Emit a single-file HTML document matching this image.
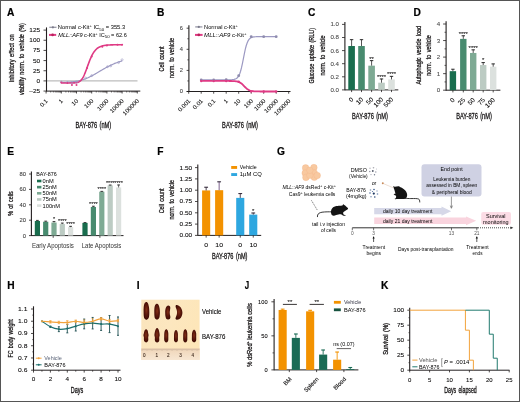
<!DOCTYPE html>
<html><head><meta charset="utf-8"><style>
html,body{margin:0;padding:0;background:#fff;}
body{width:520px;height:402px;overflow:hidden;}
svg{display:block;font-family:"Liberation Sans", sans-serif;will-change:transform;}
</style></head><body>
<svg width="520" height="402" viewBox="0 0 520 402">
<rect x="0" y="0" width="520" height="402" fill="#fff"/>
<text x="6.9" y="16.3" font-size="10.2" stroke="#000" stroke-width="0.2" fill="#000" font-weight="bold">A</text>
<line x1="46.5" y1="80.9" x2="137.5" y2="80.9" stroke="#bdbdbd" stroke-width="1.3" />
<line x1="46.5" y1="27.4" x2="46.5" y2="91.55" stroke="#231f20" stroke-width="1.1" />
<line x1="43.5" y1="91.06" x2="46.5" y2="91.06" stroke="#231f20" stroke-width="0.8" />
<text x="40.2" y="93.01" font-size="5.4" stroke="#231f20" stroke-width="0.08" text-anchor="end" textLength="10.81" lengthAdjust="spacingAndGlyphs">&#8211;25</text>
<line x1="43.5" y1="80.9" x2="46.5" y2="80.9" stroke="#231f20" stroke-width="0.8" />
<text x="40.2" y="82.85" font-size="5.4" stroke="#231f20" stroke-width="0.08" text-anchor="end" textLength="3.6" lengthAdjust="spacingAndGlyphs">0</text>
<line x1="43.5" y1="70.74" x2="46.5" y2="70.74" stroke="#231f20" stroke-width="0.8" />
<text x="40.2" y="72.69" font-size="5.4" stroke="#231f20" stroke-width="0.08" text-anchor="end" textLength="7.21" lengthAdjust="spacingAndGlyphs">25</text>
<line x1="43.5" y1="60.58" x2="46.5" y2="60.58" stroke="#231f20" stroke-width="0.8" />
<text x="40.2" y="62.53" font-size="5.4" stroke="#231f20" stroke-width="0.08" text-anchor="end" textLength="7.21" lengthAdjust="spacingAndGlyphs">50</text>
<line x1="43.5" y1="50.42" x2="46.5" y2="50.42" stroke="#231f20" stroke-width="0.8" />
<text x="40.2" y="52.37" font-size="5.4" stroke="#231f20" stroke-width="0.08" text-anchor="end" textLength="7.21" lengthAdjust="spacingAndGlyphs">75</text>
<line x1="43.5" y1="40.26" x2="46.5" y2="40.26" stroke="#231f20" stroke-width="0.8" />
<text x="40.2" y="42.21" font-size="5.4" stroke="#231f20" stroke-width="0.08" text-anchor="end" textLength="10.81" lengthAdjust="spacingAndGlyphs">100</text>
<line x1="43.5" y1="30.1" x2="46.5" y2="30.1" stroke="#231f20" stroke-width="0.8" />
<text x="40.2" y="32.05" font-size="5.4" stroke="#231f20" stroke-width="0.08" text-anchor="end" textLength="10.81" lengthAdjust="spacingAndGlyphs">125</text>
<line x1="46.5" y1="91.1" x2="140.3" y2="91.1" stroke="#231f20" stroke-width="1" />
<line x1="46.1" y1="91.1" x2="46.1" y2="93.5" stroke="#231f20" stroke-width="0.8" />
<line x1="50.68" y1="91.1" x2="50.68" y2="92.5" stroke="#231f20" stroke-width="0.6" />
<line x1="53.35" y1="91.1" x2="53.35" y2="92.5" stroke="#231f20" stroke-width="0.6" />
<line x1="55.25" y1="91.1" x2="55.25" y2="92.5" stroke="#231f20" stroke-width="0.6" />
<line x1="56.72" y1="91.1" x2="56.72" y2="92.5" stroke="#231f20" stroke-width="0.6" />
<line x1="57.93" y1="91.1" x2="57.93" y2="92.5" stroke="#231f20" stroke-width="0.6" />
<line x1="58.95" y1="91.1" x2="58.95" y2="92.5" stroke="#231f20" stroke-width="0.6" />
<line x1="59.83" y1="91.1" x2="59.83" y2="92.5" stroke="#231f20" stroke-width="0.6" />
<line x1="60.6" y1="91.1" x2="60.6" y2="92.5" stroke="#231f20" stroke-width="0.6" />
<text x="48.2" y="101.3" font-size="5.8" stroke="#231f20" stroke-width="0.08" text-anchor="end" transform="rotate(-45 48.2 101.3)" textLength="8.47" lengthAdjust="spacingAndGlyphs">0.1</text>
<line x1="61.3" y1="91.1" x2="61.3" y2="93.5" stroke="#231f20" stroke-width="0.8" />
<line x1="65.88" y1="91.1" x2="65.88" y2="92.5" stroke="#231f20" stroke-width="0.6" />
<line x1="68.55" y1="91.1" x2="68.55" y2="92.5" stroke="#231f20" stroke-width="0.6" />
<line x1="70.45" y1="91.1" x2="70.45" y2="92.5" stroke="#231f20" stroke-width="0.6" />
<line x1="71.92" y1="91.1" x2="71.92" y2="92.5" stroke="#231f20" stroke-width="0.6" />
<line x1="73.13" y1="91.1" x2="73.13" y2="92.5" stroke="#231f20" stroke-width="0.6" />
<line x1="74.15" y1="91.1" x2="74.15" y2="92.5" stroke="#231f20" stroke-width="0.6" />
<line x1="75.03" y1="91.1" x2="75.03" y2="92.5" stroke="#231f20" stroke-width="0.6" />
<line x1="75.8" y1="91.1" x2="75.8" y2="92.5" stroke="#231f20" stroke-width="0.6" />
<text x="63.4" y="101.3" font-size="5.8" stroke="#231f20" stroke-width="0.08" text-anchor="end" transform="rotate(-45 63.4 101.3)" textLength="3.39" lengthAdjust="spacingAndGlyphs">1</text>
<line x1="76.5" y1="91.1" x2="76.5" y2="93.5" stroke="#231f20" stroke-width="0.8" />
<line x1="81.08" y1="91.1" x2="81.08" y2="92.5" stroke="#231f20" stroke-width="0.6" />
<line x1="83.75" y1="91.1" x2="83.75" y2="92.5" stroke="#231f20" stroke-width="0.6" />
<line x1="85.65" y1="91.1" x2="85.65" y2="92.5" stroke="#231f20" stroke-width="0.6" />
<line x1="87.12" y1="91.1" x2="87.12" y2="92.5" stroke="#231f20" stroke-width="0.6" />
<line x1="88.33" y1="91.1" x2="88.33" y2="92.5" stroke="#231f20" stroke-width="0.6" />
<line x1="89.35" y1="91.1" x2="89.35" y2="92.5" stroke="#231f20" stroke-width="0.6" />
<line x1="90.23" y1="91.1" x2="90.23" y2="92.5" stroke="#231f20" stroke-width="0.6" />
<line x1="91" y1="91.1" x2="91" y2="92.5" stroke="#231f20" stroke-width="0.6" />
<text x="78.6" y="101.3" font-size="5.8" stroke="#231f20" stroke-width="0.08" text-anchor="end" transform="rotate(-45 78.6 101.3)" textLength="6.77" lengthAdjust="spacingAndGlyphs">10</text>
<line x1="91.7" y1="91.1" x2="91.7" y2="93.5" stroke="#231f20" stroke-width="0.8" />
<line x1="96.28" y1="91.1" x2="96.28" y2="92.5" stroke="#231f20" stroke-width="0.6" />
<line x1="98.95" y1="91.1" x2="98.95" y2="92.5" stroke="#231f20" stroke-width="0.6" />
<line x1="100.85" y1="91.1" x2="100.85" y2="92.5" stroke="#231f20" stroke-width="0.6" />
<line x1="102.32" y1="91.1" x2="102.32" y2="92.5" stroke="#231f20" stroke-width="0.6" />
<line x1="103.53" y1="91.1" x2="103.53" y2="92.5" stroke="#231f20" stroke-width="0.6" />
<line x1="104.55" y1="91.1" x2="104.55" y2="92.5" stroke="#231f20" stroke-width="0.6" />
<line x1="105.43" y1="91.1" x2="105.43" y2="92.5" stroke="#231f20" stroke-width="0.6" />
<line x1="106.2" y1="91.1" x2="106.2" y2="92.5" stroke="#231f20" stroke-width="0.6" />
<text x="93.8" y="101.3" font-size="5.8" stroke="#231f20" stroke-width="0.08" text-anchor="end" transform="rotate(-45 93.8 101.3)" textLength="10.16" lengthAdjust="spacingAndGlyphs">100</text>
<line x1="106.9" y1="91.1" x2="106.9" y2="93.5" stroke="#231f20" stroke-width="0.8" />
<line x1="111.48" y1="91.1" x2="111.48" y2="92.5" stroke="#231f20" stroke-width="0.6" />
<line x1="114.15" y1="91.1" x2="114.15" y2="92.5" stroke="#231f20" stroke-width="0.6" />
<line x1="116.05" y1="91.1" x2="116.05" y2="92.5" stroke="#231f20" stroke-width="0.6" />
<line x1="117.52" y1="91.1" x2="117.52" y2="92.5" stroke="#231f20" stroke-width="0.6" />
<line x1="118.73" y1="91.1" x2="118.73" y2="92.5" stroke="#231f20" stroke-width="0.6" />
<line x1="119.75" y1="91.1" x2="119.75" y2="92.5" stroke="#231f20" stroke-width="0.6" />
<line x1="120.63" y1="91.1" x2="120.63" y2="92.5" stroke="#231f20" stroke-width="0.6" />
<line x1="121.4" y1="91.1" x2="121.4" y2="92.5" stroke="#231f20" stroke-width="0.6" />
<text x="109" y="101.3" font-size="5.8" stroke="#231f20" stroke-width="0.08" text-anchor="end" transform="rotate(-45 109 101.3)" textLength="13.55" lengthAdjust="spacingAndGlyphs">1000</text>
<line x1="122.1" y1="91.1" x2="122.1" y2="93.5" stroke="#231f20" stroke-width="0.8" />
<line x1="126.68" y1="91.1" x2="126.68" y2="92.5" stroke="#231f20" stroke-width="0.6" />
<line x1="129.35" y1="91.1" x2="129.35" y2="92.5" stroke="#231f20" stroke-width="0.6" />
<line x1="131.25" y1="91.1" x2="131.25" y2="92.5" stroke="#231f20" stroke-width="0.6" />
<line x1="132.72" y1="91.1" x2="132.72" y2="92.5" stroke="#231f20" stroke-width="0.6" />
<line x1="133.93" y1="91.1" x2="133.93" y2="92.5" stroke="#231f20" stroke-width="0.6" />
<line x1="134.95" y1="91.1" x2="134.95" y2="92.5" stroke="#231f20" stroke-width="0.6" />
<line x1="135.83" y1="91.1" x2="135.83" y2="92.5" stroke="#231f20" stroke-width="0.6" />
<line x1="136.6" y1="91.1" x2="136.6" y2="92.5" stroke="#231f20" stroke-width="0.6" />
<text x="124.2" y="101.3" font-size="5.8" stroke="#231f20" stroke-width="0.08" text-anchor="end" transform="rotate(-45 124.2 101.3)" textLength="16.93" lengthAdjust="spacingAndGlyphs">10000</text>
<line x1="137.3" y1="91.1" x2="137.3" y2="93.5" stroke="#231f20" stroke-width="0.8" />
<text x="139.4" y="101.3" font-size="5.8" stroke="#231f20" stroke-width="0.08" text-anchor="end" transform="rotate(-45 139.4 101.3)" textLength="20.32" lengthAdjust="spacingAndGlyphs">100000</text>
<text x="93.3" y="127.7" font-size="8.2" word-spacing="1.2" stroke="#231f20" stroke-width="0.28" text-anchor="middle" textLength="35.8" lengthAdjust="spacingAndGlyphs">BAY-876 (nM)</text>
<text x="13.7" y="58.4" font-size="7.6" word-spacing="1.2" stroke="#231f20" stroke-width="0.28" text-anchor="middle" transform="rotate(-90 13.7 58.4)" textLength="48" lengthAdjust="spacingAndGlyphs">Inhibitory effect on</text>
<text x="24" y="59.1" font-size="7.6" word-spacing="1.2" stroke="#231f20" stroke-width="0.28" text-anchor="middle" transform="rotate(-90 24 59.1)" textLength="72" lengthAdjust="spacingAndGlyphs">viability norm. to vehicle (%)</text>
<path d="M61.3 82.42 L61.91 82.4 L62.52 82.39 L63.12 82.37 L63.73 82.36 L64.34 82.34 L64.95 82.32 L65.56 82.29 L66.16 82.27 L66.77 82.24 L67.38 82.21 L67.99 82.18 L68.6 82.14 L69.2 82.1 L69.81 82.06 L70.42 82.01 L71.03 81.96 L71.64 81.9 L72.24 81.84 L72.85 81.77 L73.46 81.7 L74.07 81.62 L74.68 81.54 L75.28 81.45 L75.89 81.35 L76.5 81.25 L77.11 81.14 L77.72 81.02 L78.32 80.9 L78.93 80.76 L79.54 80.62 L80.15 80.47 L80.76 80.31 L81.36 80.15 L81.97 79.97 L82.58 79.78 L83.19 79.59 L83.8 79.38 L84.4 79.17 L85.01 78.94 L85.62 78.71 L86.23 78.47 L86.84 78.21 L87.44 77.95 L88.05 77.68 L88.66 77.4 L89.27 77.12 L89.88 76.82 L90.48 76.52 L91.09 76.21 L91.7 75.89 L92.31 75.57 L92.92 75.24 L93.52 74.9 L94.13 74.56 L94.74 74.22 L95.35 73.87 L95.96 73.52 L96.56 73.16 L97.17 72.81 L97.78 72.45 L98.39 72.08 L99 71.72 L99.6 71.36 L100.21 71 L100.82 70.64 L101.43 70.28 L102.04 69.92 L102.64 69.56 L103.25 69.21 L103.86 68.86 L104.47 68.51 L105.08 68.17 L105.68 67.83 L106.29 67.5 L106.9 67.17 L107.51 66.85 L108.12 66.53 L108.72 66.22 L109.33 65.91 L109.94 65.61 L110.55 65.31 L111.16 65.02 L111.76 64.74 L112.37 64.46 L112.98 64.19 L113.59 63.93 L114.2 63.67 L114.8 63.42 L115.41 63.18 L116.02 62.94 L116.63 62.71 L117.24 62.49 L117.84 62.27 L118.45 62.06 L119.06 61.86 L119.67 61.66 L120.28 61.47 L120.88 61.28 L121.49 61.1 L122.1 60.93" fill="none" stroke="#9c99c2" stroke-width="1.2" />
<path d="M61.3 82.93 L61.91 82.93 L62.52 82.93 L63.12 82.93 L63.73 82.93 L64.34 82.93 L64.95 82.93 L65.56 82.93 L66.16 82.93 L66.77 82.93 L67.38 82.93 L67.99 82.93 L68.6 82.93 L69.2 82.93 L69.81 82.93 L70.42 82.92 L71.03 82.92 L71.64 82.92 L72.24 82.91 L72.85 82.9 L73.46 82.88 L74.07 82.86 L74.68 82.83 L75.28 82.78 L75.89 82.72 L76.5 82.64 L77.11 82.52 L77.72 82.36 L78.32 82.16 L78.93 81.88 L79.54 81.54 L80.15 81.1 L80.76 80.55 L81.36 79.89 L81.97 79.09 L82.58 78.16 L83.19 77.08 L83.8 75.87 L84.4 74.54 L85.01 73.08 L85.62 71.54 L86.23 69.91 L86.84 68.25 L87.44 66.56 L88.05 64.87 L88.66 63.21 L89.27 61.6 L89.88 60.05 L90.48 58.59 L91.09 57.21 L91.7 55.92 L92.31 54.73 L92.92 53.64 L93.52 52.65 L94.13 51.74 L94.74 50.93 L95.35 50.2 L95.96 49.55 L96.56 48.97 L97.17 48.45 L97.78 47.99 L98.39 47.59 L99 47.23 L99.6 46.92 L100.21 46.64 L100.82 46.4 L101.43 46.19 L102.04 46 L102.64 45.84 L103.25 45.7 L103.86 45.57 L104.47 45.46 L105.08 45.37 L105.68 45.29 L106.29 45.21 L106.9 45.15 L107.51 45.1 L108.12 45.05 L108.72 45.01 L109.33 44.97 L109.94 44.94 L110.55 44.91 L111.16 44.89 L111.76 44.87 L112.37 44.85 L112.98 44.83 L113.59 44.82 L114.2 44.81 L114.8 44.8 L115.41 44.79 L116.02 44.78 L116.63 44.78 L117.24 44.77 L117.84 44.76 L118.45 44.76 L119.06 44.76 L119.67 44.75 L120.28 44.75 L120.88 44.75 L121.49 44.75 L122.1 44.74" fill="none" stroke="#df3a84" stroke-width="1.6" />
<circle cx="61.3" cy="82.12" r="1" fill="none" stroke="#9c99c2" stroke-width="0.6"/>
<circle cx="67.35" cy="82.53" r="1" fill="none" stroke="#9c99c2" stroke-width="0.6"/>
<circle cx="71.92" cy="82.93" r="1" fill="none" stroke="#9c99c2" stroke-width="0.6"/>
<circle cx="76.5" cy="82.12" r="1" fill="none" stroke="#9c99c2" stroke-width="0.6"/>
<circle cx="85.65" cy="78.06" r="1" fill="none" stroke="#9c99c2" stroke-width="0.6"/>
<circle cx="91.7" cy="75.62" r="1" fill="none" stroke="#9c99c2" stroke-width="0.6"/>
<circle cx="107.53" cy="66.68" r="1" fill="none" stroke="#9c99c2" stroke-width="0.6"/>
<circle cx="110.78" cy="65.86" r="1" fill="none" stroke="#9c99c2" stroke-width="0.6"/>
<circle cx="118.5" cy="62.61" r="1" fill="none" stroke="#9c99c2" stroke-width="0.6"/>
<circle cx="122.1" cy="59.77" r="1" fill="none" stroke="#9c99c2" stroke-width="0.6"/>
<circle cx="61.3" cy="82.53" r="1" fill="#df3a84" />
<circle cx="67.35" cy="82.93" r="1" fill="#df3a84" />
<circle cx="71.92" cy="84.96" r="1" fill="#df3a84" />
<circle cx="76.5" cy="84.96" r="1" fill="#df3a84" />
<circle cx="87.12" cy="67.9" r="1" fill="#df3a84" />
<circle cx="91.7" cy="56.52" r="1" fill="#df3a84" />
<circle cx="102.32" cy="46.76" r="1" fill="#df3a84" />
<circle cx="106.9" cy="45.54" r="1" fill="#df3a84" />
<circle cx="117.52" cy="44.73" r="1" fill="#df3a84" />
<circle cx="122.1" cy="44.73" r="1" fill="#df3a84" />
<line x1="49.3" y1="27.3" x2="56.5" y2="27.3" stroke="#9a9aa8" stroke-width="1.3" />
<circle cx="52.9" cy="27.3" r="1.1" fill="#7a7a8a" />
<text x="57.8" y="29.2" font-size="5.6" textLength="67.3" lengthAdjust="spacingAndGlyphs">Normal c-Kit<tspan font-size="4" dy="-2.2">+</tspan><tspan dy="2.2"> IC</tspan><tspan font-size="4.3" dy="1.5">50</tspan><tspan dy="-1.5"> = 355.3</tspan></text>
<line x1="49" y1="34.9" x2="56.2" y2="34.9" stroke="#df3a84" stroke-width="2" />
<circle cx="52.6" cy="34.9" r="1.3" fill="#b8205a" />
<text x="58.3" y="36.8" font-size="5.6" textLength="68.5" lengthAdjust="spacingAndGlyphs"><tspan font-style="italic">MLL::AF9</tspan> c-Kit<tspan font-size="4" dy="-2.2">+</tspan><tspan dy="2.2"> IC</tspan><tspan font-size="4.3" dy="1.5">50</tspan><tspan dy="-1.5"> = 62.6</tspan></text>
<text x="156.9" y="16.4" font-size="10.2" stroke="#000" stroke-width="0.2" fill="#000" font-weight="bold">B</text>
<line x1="188.9" y1="25.2" x2="188.9" y2="91.95" stroke="#231f20" stroke-width="1.1" />
<line x1="186.6" y1="91.5" x2="188.9" y2="91.5" stroke="#231f20" stroke-width="0.8" />
<text x="183" y="93.45" font-size="5.2" stroke="#444" stroke-width="0.08" text-anchor="end" fill="#444" textLength="3.18" lengthAdjust="spacingAndGlyphs">0</text>
<line x1="186.6" y1="70.4" x2="188.9" y2="70.4" stroke="#231f20" stroke-width="0.8" />
<text x="183" y="72.35" font-size="5.2" stroke="#444" stroke-width="0.08" text-anchor="end" fill="#444" textLength="3.18" lengthAdjust="spacingAndGlyphs">2</text>
<line x1="186.6" y1="49.3" x2="188.9" y2="49.3" stroke="#231f20" stroke-width="0.8" />
<text x="183" y="51.25" font-size="5.2" stroke="#444" stroke-width="0.08" text-anchor="end" fill="#444" textLength="3.18" lengthAdjust="spacingAndGlyphs">4</text>
<line x1="186.6" y1="28.2" x2="188.9" y2="28.2" stroke="#231f20" stroke-width="0.8" />
<text x="183" y="30.15" font-size="5.2" stroke="#444" stroke-width="0.08" text-anchor="end" fill="#444" textLength="3.18" lengthAdjust="spacingAndGlyphs">6</text>
<line x1="187.3" y1="80.95" x2="188.9" y2="80.95" stroke="#231f20" stroke-width="0.7" />
<line x1="187.3" y1="59.85" x2="188.9" y2="59.85" stroke="#231f20" stroke-width="0.7" />
<line x1="187.3" y1="38.75" x2="188.9" y2="38.75" stroke="#231f20" stroke-width="0.7" />
<line x1="186.7" y1="91.5" x2="290.5" y2="91.5" stroke="#231f20" stroke-width="1" />
<line x1="188.7" y1="91.5" x2="188.7" y2="93.7" stroke="#231f20" stroke-width="0.8" />
<text x="191" y="101.3" font-size="5.8" stroke="#231f20" stroke-width="0.08" text-anchor="end" transform="rotate(-45 191 101.3)" textLength="15.24" lengthAdjust="spacingAndGlyphs">0.001</text>
<line x1="201.2" y1="91.5" x2="201.2" y2="93.7" stroke="#231f20" stroke-width="0.8" />
<text x="203.5" y="101.3" font-size="5.8" stroke="#231f20" stroke-width="0.08" text-anchor="end" transform="rotate(-45 203.5 101.3)" textLength="11.85" lengthAdjust="spacingAndGlyphs">0.01</text>
<line x1="213.7" y1="91.5" x2="213.7" y2="93.7" stroke="#231f20" stroke-width="0.8" />
<text x="216" y="101.3" font-size="5.8" stroke="#231f20" stroke-width="0.08" text-anchor="end" transform="rotate(-45 216 101.3)" textLength="8.47" lengthAdjust="spacingAndGlyphs">0.1</text>
<line x1="226.2" y1="91.5" x2="226.2" y2="93.7" stroke="#231f20" stroke-width="0.8" />
<text x="228.5" y="101.3" font-size="5.8" stroke="#231f20" stroke-width="0.08" text-anchor="end" transform="rotate(-45 228.5 101.3)" textLength="3.39" lengthAdjust="spacingAndGlyphs">1</text>
<line x1="238.7" y1="91.5" x2="238.7" y2="93.7" stroke="#231f20" stroke-width="0.8" />
<text x="241" y="101.3" font-size="5.8" stroke="#231f20" stroke-width="0.08" text-anchor="end" transform="rotate(-45 241 101.3)" textLength="6.77" lengthAdjust="spacingAndGlyphs">10</text>
<line x1="251.2" y1="91.5" x2="251.2" y2="93.7" stroke="#231f20" stroke-width="0.8" />
<text x="253.5" y="101.3" font-size="5.8" stroke="#231f20" stroke-width="0.08" text-anchor="end" transform="rotate(-45 253.5 101.3)" textLength="10.16" lengthAdjust="spacingAndGlyphs">100</text>
<line x1="263.7" y1="91.5" x2="263.7" y2="93.7" stroke="#231f20" stroke-width="0.8" />
<text x="266" y="101.3" font-size="5.8" stroke="#231f20" stroke-width="0.08" text-anchor="end" transform="rotate(-45 266 101.3)" textLength="13.55" lengthAdjust="spacingAndGlyphs">1000</text>
<line x1="276.2" y1="91.5" x2="276.2" y2="93.7" stroke="#231f20" stroke-width="0.8" />
<text x="278.5" y="101.3" font-size="5.8" stroke="#231f20" stroke-width="0.08" text-anchor="end" transform="rotate(-45 278.5 101.3)" textLength="16.93" lengthAdjust="spacingAndGlyphs">10000</text>
<line x1="288.7" y1="91.5" x2="288.7" y2="93.7" stroke="#231f20" stroke-width="0.8" />
<text x="291" y="101.3" font-size="5.8" stroke="#231f20" stroke-width="0.08" text-anchor="end" transform="rotate(-45 291 101.3)" textLength="20.32" lengthAdjust="spacingAndGlyphs">100000</text>
<text x="240" y="127.7" font-size="8.2" word-spacing="1.2" stroke="#231f20" stroke-width="0.28" text-anchor="middle" textLength="35.8" lengthAdjust="spacingAndGlyphs">BAY-876 (nM)</text>
<text x="163.8" y="59.05" font-size="7.6" word-spacing="1.2" stroke="#231f20" stroke-width="0.28" text-anchor="middle" transform="rotate(-90 163.8 59.05)" textLength="24.9" lengthAdjust="spacingAndGlyphs">Cell count</text>
<text x="173.8" y="58.05" font-size="7.6" word-spacing="1.2" stroke="#231f20" stroke-width="0.28" text-anchor="middle" transform="rotate(-90 173.8 58.05)" textLength="40.1" lengthAdjust="spacingAndGlyphs">norm. to vehicle</text>
<path d="M201.2 79.89 L202.14 79.89 L203.07 79.89 L204.01 79.89 L204.95 79.89 L205.89 79.89 L206.82 79.89 L207.76 79.89 L208.7 79.89 L209.64 79.89 L210.57 79.89 L211.51 79.89 L212.45 79.89 L213.39 79.89 L214.32 79.89 L215.26 79.89 L216.2 79.89 L217.14 79.89 L218.07 79.89 L219.01 79.89 L219.95 79.89 L220.89 79.89 L221.82 79.89 L222.76 79.89 L223.7 79.89 L224.64 79.89 L225.57 79.89 L226.51 79.88 L227.45 79.88 L228.39 79.86 L229.32 79.85 L230.26 79.82 L231.2 79.77 L232.14 79.71 L233.07 79.6 L234.01 79.43 L234.95 79.18 L235.89 78.78 L236.82 78.17 L237.76 77.25 L238.7 75.89 L239.64 73.92 L240.57 71.21 L241.51 67.67 L242.45 63.37 L243.39 58.61 L244.32 53.8 L245.26 49.42 L246.2 45.77 L247.14 42.94 L248.07 40.88 L249.01 39.44 L249.95 38.47 L250.89 37.83 L251.82 37.4 L252.76 37.13 L253.7 36.95 L254.64 36.84 L255.57 36.77 L256.51 36.72 L257.45 36.69 L258.39 36.67 L259.32 36.66 L260.26 36.65 L261.2 36.65 L262.14 36.65 L263.07 36.64 L264.01 36.64 L264.95 36.64 L265.89 36.64 L266.82 36.64 L267.76 36.64 L268.7 36.64 L269.64 36.64 L270.57 36.64 L271.51 36.64 L272.45 36.64 L273.39 36.64 L274.32 36.64 L275.26 36.64 L276.2 36.64" fill="none" stroke="#9c99c2" stroke-width="1.2" />
<path d="M201.2 80.95 L202.14 80.95 L203.07 80.95 L204.01 80.95 L204.95 80.95 L205.89 80.95 L206.82 80.95 L207.76 80.95 L208.7 80.95 L209.64 80.95 L210.57 80.95 L211.51 80.95 L212.45 80.95 L213.39 80.95 L214.32 80.95 L215.26 80.95 L216.2 80.95 L217.14 80.95 L218.07 80.95 L219.01 80.95 L219.95 80.95 L220.89 80.95 L221.82 80.95 L222.76 80.95 L223.7 80.95 L224.64 80.95 L225.57 80.96 L226.51 80.96 L227.45 80.96 L228.39 80.97 L229.32 80.98 L230.26 80.99 L231.2 81.01 L232.14 81.03 L233.07 81.07 L234.01 81.12 L234.95 81.2 L235.89 81.3 L236.82 81.46 L237.76 81.67 L238.7 81.97 L239.64 82.37 L240.57 82.9 L241.51 83.56 L242.45 84.37 L243.39 85.28 L244.32 86.26 L245.26 87.24 L246.2 88.15 L247.14 88.94 L248.07 89.6 L249.01 90.11 L249.95 90.51 L250.89 90.8 L251.82 91.01 L252.76 91.16 L253.7 91.26 L254.64 91.33 L255.57 91.39 L256.51 91.42 L257.45 91.45 L258.39 91.46 L259.32 91.47 L260.26 91.48 L261.2 91.49 L262.14 91.49 L263.07 91.49 L264.01 91.5 L264.95 91.5 L265.89 91.5 L266.82 91.5 L267.76 91.5 L268.7 91.5 L269.64 91.5 L270.57 91.5 L271.51 91.5 L272.45 91.5 L273.39 91.5 L274.32 91.5 L275.26 91.5 L276.2 91.5" fill="none" stroke="#df3a84" stroke-width="1.8" />
<circle cx="201.2" cy="79.89" r="1.4" fill="#8e8cae" />
<circle cx="213.7" cy="79.89" r="1.4" fill="#8e8cae" />
<circle cx="226.2" cy="79.68" r="1.4" fill="#8e8cae" />
<circle cx="238.7" cy="75.67" r="1.4" fill="#8e8cae" />
<circle cx="251.2" cy="36.64" r="1.4" fill="#8e8cae" />
<circle cx="263.7" cy="36.64" r="1.4" fill="#8e8cae" />
<circle cx="276.2" cy="36.64" r="1.4" fill="#8e8cae" />
<circle cx="201.2" cy="80.95" r="1.2" fill="#df3a84" />
<circle cx="213.7" cy="80.95" r="1.2" fill="#df3a84" />
<circle cx="226.2" cy="80.95" r="1.2" fill="#df3a84" />
<circle cx="238.7" cy="81.69" r="1.2" fill="#df3a84" />
<circle cx="251.2" cy="91.5" r="1.2" fill="#df3a84" />
<circle cx="263.7" cy="91.5" r="1.2" fill="#df3a84" />
<circle cx="276.2" cy="91.5" r="1.2" fill="#df3a84" />
<line x1="195.2" y1="26.9" x2="202.4" y2="26.9" stroke="#9a9aa8" stroke-width="1.3" />
<circle cx="198.8" cy="26.9" r="1.1" fill="#7a7a8a" />
<text x="204.1" y="28.9" font-size="5.6" textLength="33.7" lengthAdjust="spacingAndGlyphs">Normal c-Kit<tspan font-size="4" dy="-2.2">+</tspan></text>
<line x1="195" y1="34.9" x2="202.6" y2="34.9" stroke="#df3a84" stroke-width="2" />
<circle cx="198.8" cy="34.9" r="1.3" fill="#b8205a" />
<text x="204.1" y="36.8" font-size="5.6" textLength="42.5" lengthAdjust="spacingAndGlyphs"><tspan font-style="italic">MLL::AF9</tspan> c-Kit<tspan font-size="4" dy="-2.2">+</tspan></text>
<text x="307.9" y="16.4" font-size="10.2" stroke="#000" stroke-width="0.2" fill="#000" font-weight="bold">C</text>
<line x1="344.9" y1="22" x2="344.9" y2="90.35" stroke="#231f20" stroke-width="1.1" />
<line x1="342" y1="89.9" x2="344.9" y2="89.9" stroke="#231f20" stroke-width="0.8" />
<text x="339" y="91.85" font-size="5.6" stroke="#4a4a4a" stroke-width="0.08" text-anchor="end" fill="#4a4a4a" textLength="8.56" lengthAdjust="spacingAndGlyphs">0.0</text>
<line x1="342" y1="76.8" x2="344.9" y2="76.8" stroke="#231f20" stroke-width="0.8" />
<text x="339" y="78.75" font-size="5.6" stroke="#4a4a4a" stroke-width="0.08" text-anchor="end" fill="#4a4a4a" textLength="8.56" lengthAdjust="spacingAndGlyphs">0.2</text>
<line x1="342" y1="63.7" x2="344.9" y2="63.7" stroke="#231f20" stroke-width="0.8" />
<text x="339" y="65.65" font-size="5.6" stroke="#4a4a4a" stroke-width="0.08" text-anchor="end" fill="#4a4a4a" textLength="8.56" lengthAdjust="spacingAndGlyphs">0.4</text>
<line x1="342" y1="50.6" x2="344.9" y2="50.6" stroke="#231f20" stroke-width="0.8" />
<text x="339" y="52.55" font-size="5.6" stroke="#4a4a4a" stroke-width="0.08" text-anchor="end" fill="#4a4a4a" textLength="8.56" lengthAdjust="spacingAndGlyphs">0.6</text>
<line x1="342" y1="37.5" x2="344.9" y2="37.5" stroke="#231f20" stroke-width="0.8" />
<text x="339" y="39.45" font-size="5.6" stroke="#4a4a4a" stroke-width="0.08" text-anchor="end" fill="#4a4a4a" textLength="8.56" lengthAdjust="spacingAndGlyphs">0.8</text>
<line x1="342" y1="24.4" x2="344.9" y2="24.4" stroke="#231f20" stroke-width="0.8" />
<text x="339" y="26.35" font-size="5.6" stroke="#4a4a4a" stroke-width="0.08" text-anchor="end" fill="#4a4a4a" textLength="8.56" lengthAdjust="spacingAndGlyphs">1.0</text>
<line x1="344.9" y1="89.9" x2="398.3" y2="89.9" stroke="#231f20" stroke-width="1" />
<rect x="348.3" y="46.02" width="6.6" height="43.89" fill="#196d4e" />
<line x1="351.6" y1="46.02" x2="351.6" y2="39.47" stroke="#2a2a2a" stroke-width="0.8" />
<line x1="349.9" y1="39.67" x2="353.3" y2="39.67" stroke="#2a2a2a" stroke-width="1" />
<line x1="351.6" y1="89.9" x2="351.6" y2="92.1" stroke="#231f20" stroke-width="0.8" />
<rect x="358.2" y="46.02" width="6.6" height="43.89" fill="#488b6f" />
<line x1="361.5" y1="46.02" x2="361.5" y2="39.47" stroke="#2a2a2a" stroke-width="0.8" />
<line x1="359.8" y1="39.67" x2="363.2" y2="39.67" stroke="#2a2a2a" stroke-width="1" />
<line x1="361.5" y1="89.9" x2="361.5" y2="92.1" stroke="#231f20" stroke-width="0.8" />
<rect x="368.3" y="65.67" width="6.6" height="24.23" fill="#7eaa94" />
<line x1="371.6" y1="65.67" x2="371.6" y2="60.43" stroke="#2a2a2a" stroke-width="0.8" />
<line x1="369.9" y1="60.63" x2="373.3" y2="60.63" stroke="#2a2a2a" stroke-width="1" />
<line x1="371.6" y1="89.9" x2="371.6" y2="92.1" stroke="#231f20" stroke-width="0.8" />
<text x="371.6" y="60.51" font-size="5.4" stroke="#231f20" stroke-width="0.05" text-anchor="middle" textLength="4.6" lengthAdjust="spacingAndGlyphs">**</text>
<rect x="378.2" y="82.7" width="6.6" height="7.2" fill="#bccbc3" />
<line x1="381.5" y1="82.7" x2="381.5" y2="78.77" stroke="#2a2a2a" stroke-width="0.8" />
<line x1="379.8" y1="78.97" x2="383.2" y2="78.97" stroke="#2a2a2a" stroke-width="1" />
<line x1="381.5" y1="89.9" x2="381.5" y2="92.1" stroke="#231f20" stroke-width="0.8" />
<text x="381.5" y="78.85" font-size="5.4" stroke="#231f20" stroke-width="0.05" text-anchor="middle" textLength="9.2" lengthAdjust="spacingAndGlyphs">****</text>
<rect x="388.2" y="79.42" width="6.6" height="10.48" fill="#dce1de" />
<line x1="391.5" y1="79.42" x2="391.5" y2="76.15" stroke="#2a2a2a" stroke-width="0.8" />
<line x1="389.8" y1="76.35" x2="393.2" y2="76.35" stroke="#2a2a2a" stroke-width="1" />
<line x1="391.5" y1="89.9" x2="391.5" y2="92.1" stroke="#231f20" stroke-width="0.8" />
<text x="391.5" y="76.23" font-size="5.4" stroke="#231f20" stroke-width="0.05" text-anchor="middle" textLength="9.2" lengthAdjust="spacingAndGlyphs">****</text>
<text x="353.8" y="99.9" font-size="6.3" stroke="#231f20" stroke-width="0.08" text-anchor="end" transform="rotate(-45 353.8 99.9)" textLength="3.68" lengthAdjust="spacingAndGlyphs">0</text>
<text x="363.7" y="99.9" font-size="6.3" stroke="#231f20" stroke-width="0.08" text-anchor="end" transform="rotate(-45 363.7 99.9)" textLength="7.36" lengthAdjust="spacingAndGlyphs">10</text>
<text x="373.8" y="99.9" font-size="6.3" stroke="#231f20" stroke-width="0.08" text-anchor="end" transform="rotate(-45 373.8 99.9)" textLength="7.36" lengthAdjust="spacingAndGlyphs">50</text>
<text x="383.7" y="99.9" font-size="6.3" stroke="#231f20" stroke-width="0.08" text-anchor="end" transform="rotate(-45 383.7 99.9)" textLength="11.04" lengthAdjust="spacingAndGlyphs">100</text>
<text x="393.7" y="99.9" font-size="6.3" stroke="#231f20" stroke-width="0.08" text-anchor="end" transform="rotate(-45 393.7 99.9)" textLength="11.04" lengthAdjust="spacingAndGlyphs">500</text>
<text x="369.95" y="118.6" font-size="8.2" word-spacing="1.2" stroke="#231f20" stroke-width="0.28" text-anchor="middle" textLength="35.7" lengthAdjust="spacingAndGlyphs">BAY-876 (nM)</text>
<text x="314" y="55.8" font-size="7.6" word-spacing="1.2" stroke="#231f20" stroke-width="0.28" text-anchor="middle" transform="rotate(-90 314 55.8)" textLength="55.6" lengthAdjust="spacingAndGlyphs">Glucose uptake (RLU)</text>
<text x="325" y="55.45" font-size="7.6" word-spacing="1.2" stroke="#231f20" stroke-width="0.28" text-anchor="middle" transform="rotate(-90 325 55.45)" textLength="40.1" lengthAdjust="spacingAndGlyphs">norm. to vehicle</text>
<text x="413.5" y="16.4" font-size="10.2" stroke="#000" stroke-width="0.2" fill="#000" font-weight="bold">D</text>
<line x1="446.1" y1="21.2" x2="446.1" y2="90.65" stroke="#231f20" stroke-width="1.1" />
<line x1="443.1" y1="90.2" x2="446.1" y2="90.2" stroke="#231f20" stroke-width="0.8" />
<text x="440.1" y="92.15" font-size="5.6" stroke="#4a4a4a" stroke-width="0.08" text-anchor="end" fill="#4a4a4a" textLength="3.43" lengthAdjust="spacingAndGlyphs">0</text>
<line x1="443.1" y1="73.65" x2="446.1" y2="73.65" stroke="#231f20" stroke-width="0.8" />
<text x="440.1" y="75.6" font-size="5.6" stroke="#4a4a4a" stroke-width="0.08" text-anchor="end" fill="#4a4a4a" textLength="3.43" lengthAdjust="spacingAndGlyphs">1</text>
<line x1="443.1" y1="57.1" x2="446.1" y2="57.1" stroke="#231f20" stroke-width="0.8" />
<text x="440.1" y="59.05" font-size="5.6" stroke="#4a4a4a" stroke-width="0.08" text-anchor="end" fill="#4a4a4a" textLength="3.43" lengthAdjust="spacingAndGlyphs">2</text>
<line x1="443.1" y1="40.55" x2="446.1" y2="40.55" stroke="#231f20" stroke-width="0.8" />
<text x="440.1" y="42.5" font-size="5.6" stroke="#4a4a4a" stroke-width="0.08" text-anchor="end" fill="#4a4a4a" textLength="3.43" lengthAdjust="spacingAndGlyphs">3</text>
<line x1="443.1" y1="24" x2="446.1" y2="24" stroke="#231f20" stroke-width="0.8" />
<text x="440.1" y="25.95" font-size="5.6" stroke="#4a4a4a" stroke-width="0.08" text-anchor="end" fill="#4a4a4a" textLength="3.43" lengthAdjust="spacingAndGlyphs">4</text>
<line x1="444.5" y1="81.92" x2="446.1" y2="81.92" stroke="#231f20" stroke-width="0.7" />
<line x1="444.5" y1="65.38" x2="446.1" y2="65.38" stroke="#231f20" stroke-width="0.7" />
<line x1="444.5" y1="48.83" x2="446.1" y2="48.83" stroke="#231f20" stroke-width="0.7" />
<line x1="444.5" y1="32.27" x2="446.1" y2="32.27" stroke="#231f20" stroke-width="0.7" />
<line x1="446.1" y1="90.2" x2="500.4" y2="90.2" stroke="#231f20" stroke-width="1" />
<rect x="449.7" y="71.17" width="6.4" height="19.03" fill="#196d4e" />
<line x1="452.9" y1="71.17" x2="452.9" y2="69.02" stroke="#2a2a2a" stroke-width="0.8" />
<line x1="451.2" y1="69.22" x2="454.6" y2="69.22" stroke="#2a2a2a" stroke-width="1" />
<line x1="452.9" y1="90.2" x2="452.9" y2="92.4" stroke="#231f20" stroke-width="0.8" />
<rect x="460.1" y="38.89" width="6.4" height="51.31" fill="#488b6f" />
<line x1="463.3" y1="38.89" x2="463.3" y2="35.59" stroke="#2a2a2a" stroke-width="0.8" />
<line x1="461.6" y1="35.79" x2="465" y2="35.79" stroke="#2a2a2a" stroke-width="1" />
<line x1="463.3" y1="90.2" x2="463.3" y2="92.4" stroke="#231f20" stroke-width="0.8" />
<text x="463.3" y="35.67" font-size="5.4" stroke="#231f20" stroke-width="0.05" text-anchor="middle" textLength="9.2" lengthAdjust="spacingAndGlyphs">****</text>
<rect x="470" y="52.96" width="6.4" height="37.24" fill="#7eaa94" />
<line x1="473.2" y1="52.96" x2="473.2" y2="49.65" stroke="#2a2a2a" stroke-width="0.8" />
<line x1="471.5" y1="49.85" x2="474.9" y2="49.85" stroke="#2a2a2a" stroke-width="1" />
<line x1="473.2" y1="90.2" x2="473.2" y2="92.4" stroke="#231f20" stroke-width="0.8" />
<text x="473.2" y="49.74" font-size="5.4" stroke="#231f20" stroke-width="0.05" text-anchor="middle" textLength="9.2" lengthAdjust="spacingAndGlyphs">****</text>
<rect x="480" y="65.04" width="6.4" height="25.16" fill="#bccbc3" />
<line x1="483.2" y1="65.04" x2="483.2" y2="62.4" stroke="#2a2a2a" stroke-width="0.8" />
<line x1="481.5" y1="62.6" x2="484.9" y2="62.6" stroke="#2a2a2a" stroke-width="1" />
<line x1="483.2" y1="90.2" x2="483.2" y2="92.4" stroke="#231f20" stroke-width="0.8" />
<text x="483.2" y="62.48" font-size="5.4" stroke="#231f20" stroke-width="0.05" text-anchor="middle" textLength="2.3" lengthAdjust="spacingAndGlyphs">*</text>
<rect x="490" y="66.7" width="6.4" height="23.5" fill="#dce1de" />
<line x1="493.2" y1="66.7" x2="493.2" y2="63.72" stroke="#2a2a2a" stroke-width="0.8" />
<line x1="491.5" y1="63.92" x2="494.9" y2="63.92" stroke="#2a2a2a" stroke-width="1" />
<line x1="493.2" y1="90.2" x2="493.2" y2="92.4" stroke="#231f20" stroke-width="0.8" />
<text x="455.1" y="100.4" font-size="6.3" stroke="#231f20" stroke-width="0.08" text-anchor="end" transform="rotate(-45 455.1 100.4)" textLength="3.68" lengthAdjust="spacingAndGlyphs">0</text>
<text x="465.5" y="100.4" font-size="6.3" stroke="#231f20" stroke-width="0.08" text-anchor="end" transform="rotate(-45 465.5 100.4)" textLength="7.36" lengthAdjust="spacingAndGlyphs">25</text>
<text x="475.4" y="100.4" font-size="6.3" stroke="#231f20" stroke-width="0.08" text-anchor="end" transform="rotate(-45 475.4 100.4)" textLength="7.36" lengthAdjust="spacingAndGlyphs">50</text>
<text x="485.4" y="100.4" font-size="6.3" stroke="#231f20" stroke-width="0.08" text-anchor="end" transform="rotate(-45 485.4 100.4)" textLength="7.36" lengthAdjust="spacingAndGlyphs">75</text>
<text x="495.4" y="100.4" font-size="6.3" stroke="#231f20" stroke-width="0.08" text-anchor="end" transform="rotate(-45 495.4 100.4)" textLength="11.04" lengthAdjust="spacingAndGlyphs">100</text>
<text x="474" y="119" font-size="8.2" word-spacing="1.2" stroke="#231f20" stroke-width="0.28" text-anchor="middle" textLength="35.6" lengthAdjust="spacingAndGlyphs">BAY-876 (nM)</text>
<text x="420.8" y="55.25" font-size="7.6" word-spacing="1.2" stroke="#231f20" stroke-width="0.28" text-anchor="middle" transform="rotate(-90 420.8 55.25)" textLength="58.5" lengthAdjust="spacingAndGlyphs">Autophagic vesicle load</text>
<text x="431.2" y="55.5" font-size="7.6" word-spacing="1.2" stroke="#231f20" stroke-width="0.28" text-anchor="middle" transform="rotate(-90 431.2 55.5)" textLength="40.7" lengthAdjust="spacingAndGlyphs">norm. to vehicle</text>
<text x="7.2" y="155" font-size="10.2" stroke="#000" stroke-width="0.2" fill="#000" font-weight="bold">E</text>
<line x1="31.4" y1="171.6" x2="31.4" y2="236.05" stroke="#231f20" stroke-width="1.1" />
<line x1="29" y1="235.6" x2="31.4" y2="235.6" stroke="#231f20" stroke-width="0.8" />
<text x="25.9" y="237.55" font-size="5.8" stroke="#3a3a3a" stroke-width="0.08" text-anchor="end" fill="#3a3a3a" textLength="3.23" lengthAdjust="spacingAndGlyphs">0</text>
<line x1="29" y1="220.2" x2="31.4" y2="220.2" stroke="#231f20" stroke-width="0.8" />
<text x="25.9" y="222.15" font-size="5.8" stroke="#3a3a3a" stroke-width="0.08" text-anchor="end" fill="#3a3a3a" textLength="6.45" lengthAdjust="spacingAndGlyphs">20</text>
<line x1="29" y1="204.8" x2="31.4" y2="204.8" stroke="#231f20" stroke-width="0.8" />
<text x="25.9" y="206.75" font-size="5.8" stroke="#3a3a3a" stroke-width="0.08" text-anchor="end" fill="#3a3a3a" textLength="6.45" lengthAdjust="spacingAndGlyphs">40</text>
<line x1="29" y1="189.4" x2="31.4" y2="189.4" stroke="#231f20" stroke-width="0.8" />
<text x="25.9" y="191.35" font-size="5.8" stroke="#3a3a3a" stroke-width="0.08" text-anchor="end" fill="#3a3a3a" textLength="6.45" lengthAdjust="spacingAndGlyphs">60</text>
<line x1="29" y1="174" x2="31.4" y2="174" stroke="#231f20" stroke-width="0.8" />
<text x="25.9" y="175.95" font-size="5.8" stroke="#3a3a3a" stroke-width="0.08" text-anchor="end" fill="#3a3a3a" textLength="6.45" lengthAdjust="spacingAndGlyphs">80</text>
<line x1="31.4" y1="235.6" x2="123.5" y2="235.6" stroke="#231f20" stroke-width="1" />
<rect x="34.8" y="220.97" width="5.2" height="14.63" fill="#196d4e" />
<line x1="37.4" y1="220.97" x2="37.4" y2="220.2" stroke="#2a2a2a" stroke-width="0.7" />
<line x1="36" y1="220.4" x2="38.8" y2="220.4" stroke="#2a2a2a" stroke-width="0.9" />
<rect x="43.1" y="221.74" width="5.2" height="13.86" fill="#488b6f" />
<line x1="45.7" y1="221.74" x2="45.7" y2="220.97" stroke="#2a2a2a" stroke-width="0.7" />
<line x1="44.3" y1="221.17" x2="47.1" y2="221.17" stroke="#2a2a2a" stroke-width="0.9" />
<rect x="51.4" y="222.51" width="5.2" height="13.09" fill="#7eaa94" />
<line x1="54" y1="222.51" x2="54" y2="221.35" stroke="#2a2a2a" stroke-width="0.7" />
<line x1="52.6" y1="221.55" x2="55.4" y2="221.55" stroke="#2a2a2a" stroke-width="0.9" />
<text x="54" y="221.12" font-size="5.2" stroke="#231f20" stroke-width="0.05" text-anchor="middle" textLength="2.15" lengthAdjust="spacingAndGlyphs">*</text>
<rect x="59.7" y="224.05" width="5.2" height="11.55" fill="#bccbc3" />
<line x1="62.3" y1="224.05" x2="62.3" y2="222.89" stroke="#2a2a2a" stroke-width="0.7" />
<line x1="60.9" y1="223.09" x2="63.7" y2="223.09" stroke="#2a2a2a" stroke-width="0.9" />
<text x="62.3" y="222.66" font-size="5.2" stroke="#231f20" stroke-width="0.05" text-anchor="middle" textLength="8.6" lengthAdjust="spacingAndGlyphs">****</text>
<rect x="68" y="227.13" width="5.2" height="8.47" fill="#dce1de" />
<line x1="70.6" y1="227.13" x2="70.6" y2="226.13" stroke="#2a2a2a" stroke-width="0.7" />
<line x1="69.2" y1="226.33" x2="72" y2="226.33" stroke="#2a2a2a" stroke-width="0.9" />
<text x="70.6" y="225.9" font-size="5.2" stroke="#231f20" stroke-width="0.05" text-anchor="middle" textLength="8.6" lengthAdjust="spacingAndGlyphs">****</text>
<rect x="82.4" y="222.89" width="5.2" height="12.71" fill="#196d4e" />
<line x1="85" y1="222.89" x2="85" y2="222.36" stroke="#2a2a2a" stroke-width="0.7" />
<line x1="83.6" y1="222.56" x2="86.4" y2="222.56" stroke="#2a2a2a" stroke-width="0.9" />
<rect x="90.8" y="206.96" width="5.2" height="28.64" fill="#488b6f" />
<line x1="93.4" y1="206.96" x2="93.4" y2="206.03" stroke="#2a2a2a" stroke-width="0.7" />
<line x1="92" y1="206.23" x2="94.8" y2="206.23" stroke="#2a2a2a" stroke-width="0.9" />
<text x="93.4" y="205.8" font-size="5.2" stroke="#231f20" stroke-width="0.05" text-anchor="middle" textLength="8.6" lengthAdjust="spacingAndGlyphs">****</text>
<rect x="99.2" y="191.71" width="5.2" height="43.89" fill="#7eaa94" />
<line x1="101.8" y1="191.71" x2="101.8" y2="191.17" stroke="#2a2a2a" stroke-width="0.7" />
<line x1="100.4" y1="191.37" x2="103.2" y2="191.37" stroke="#2a2a2a" stroke-width="0.9" />
<text x="101.8" y="190.94" font-size="5.2" stroke="#231f20" stroke-width="0.05" text-anchor="middle" textLength="8.6" lengthAdjust="spacingAndGlyphs">****</text>
<rect x="107.6" y="185.4" width="5.2" height="50.2" fill="#bccbc3" />
<line x1="110.2" y1="185.4" x2="110.2" y2="184.86" stroke="#2a2a2a" stroke-width="0.7" />
<line x1="108.8" y1="185.06" x2="111.6" y2="185.06" stroke="#2a2a2a" stroke-width="0.9" />
<text x="110.2" y="184.62" font-size="5.2" stroke="#231f20" stroke-width="0.05" text-anchor="middle" textLength="8.6" lengthAdjust="spacingAndGlyphs">****</text>
<rect x="116" y="187.47" width="5.2" height="48.12" fill="#dce1de" />
<line x1="118.6" y1="187.47" x2="118.6" y2="184.78" stroke="#2a2a2a" stroke-width="0.7" />
<line x1="117.2" y1="184.98" x2="120" y2="184.98" stroke="#2a2a2a" stroke-width="0.9" />
<text x="118.6" y="184.55" font-size="5.2" stroke="#231f20" stroke-width="0.05" text-anchor="middle" textLength="8.6" lengthAdjust="spacingAndGlyphs">****</text>
<line x1="53.2" y1="235.6" x2="53.2" y2="237.8" stroke="#231f20" stroke-width="0.8" />
<line x1="99.9" y1="235.6" x2="99.9" y2="237.8" stroke="#231f20" stroke-width="0.8" />
<text x="52.85" y="247.6" font-size="6.6" text-anchor="middle" fill="#333" textLength="41.9" lengthAdjust="spacingAndGlyphs">Early Apoptosis</text>
<text x="101.5" y="247.6" font-size="6.6" text-anchor="middle" fill="#333" textLength="39.5" lengthAdjust="spacingAndGlyphs">Late Apoptosis</text>
<text x="13.3" y="203.5" font-size="7.6" word-spacing="1.2" stroke="#231f20" stroke-width="0.28" text-anchor="middle" transform="rotate(-90 13.3 203.5)" textLength="24.5" lengthAdjust="spacingAndGlyphs">% of cells</text>
<text x="36.2" y="176.4" font-size="5.7" textLength="20.5" lengthAdjust="spacingAndGlyphs">BAY-876</text>
<rect x="37" y="179.7" width="4.4" height="2.6" fill="#196d4e" />
<text x="42.6" y="183" font-size="5.7">0nM</text>
<rect x="37" y="185.85" width="4.4" height="2.6" fill="#488b6f" />
<text x="42.6" y="189.15" font-size="5.7">25nM</text>
<rect x="37" y="192" width="4.4" height="2.6" fill="#7eaa94" />
<text x="42.6" y="195.3" font-size="5.7">50nM</text>
<rect x="37" y="198.15" width="4.4" height="2.6" fill="#bccbc3" />
<text x="42.6" y="201.45" font-size="5.7">75nM</text>
<rect x="37" y="204.3" width="4.4" height="2.6" fill="#dce1de" />
<text x="42.6" y="207.6" font-size="5.7">100nM</text>
<text x="157.3" y="155" font-size="10.2" stroke="#000" stroke-width="0.2" fill="#000" font-weight="bold">F</text>
<line x1="197.8" y1="164.4" x2="197.8" y2="235.85" stroke="#231f20" stroke-width="1.1" />
<line x1="195" y1="235.4" x2="197.8" y2="235.4" stroke="#231f20" stroke-width="0.8" />
<text x="192.2" y="237.35" font-size="5.4" stroke="#231f20" stroke-width="0.08" text-anchor="end" textLength="12.61" lengthAdjust="spacingAndGlyphs">0.00</text>
<line x1="195" y1="224.1" x2="197.8" y2="224.1" stroke="#231f20" stroke-width="0.8" />
<text x="192.2" y="226.05" font-size="5.4" stroke="#231f20" stroke-width="0.08" text-anchor="end" textLength="12.61" lengthAdjust="spacingAndGlyphs">0.25</text>
<line x1="195" y1="212.8" x2="197.8" y2="212.8" stroke="#231f20" stroke-width="0.8" />
<text x="192.2" y="214.75" font-size="5.4" stroke="#231f20" stroke-width="0.08" text-anchor="end" textLength="12.61" lengthAdjust="spacingAndGlyphs">0.50</text>
<line x1="195" y1="201.5" x2="197.8" y2="201.5" stroke="#231f20" stroke-width="0.8" />
<text x="192.2" y="203.45" font-size="5.4" stroke="#231f20" stroke-width="0.08" text-anchor="end" textLength="12.61" lengthAdjust="spacingAndGlyphs">0.75</text>
<line x1="195" y1="190.2" x2="197.8" y2="190.2" stroke="#231f20" stroke-width="0.8" />
<text x="192.2" y="192.15" font-size="5.4" stroke="#231f20" stroke-width="0.08" text-anchor="end" textLength="12.61" lengthAdjust="spacingAndGlyphs">1.00</text>
<line x1="195" y1="178.9" x2="197.8" y2="178.9" stroke="#231f20" stroke-width="0.8" />
<text x="192.2" y="180.85" font-size="5.4" stroke="#231f20" stroke-width="0.08" text-anchor="end" textLength="12.61" lengthAdjust="spacingAndGlyphs">1.25</text>
<line x1="195" y1="167.6" x2="197.8" y2="167.6" stroke="#231f20" stroke-width="0.8" />
<text x="192.2" y="169.55" font-size="5.4" stroke="#231f20" stroke-width="0.08" text-anchor="end" textLength="12.61" lengthAdjust="spacingAndGlyphs">1.50</text>
<line x1="197.8" y1="235.4" x2="261.2" y2="235.4" stroke="#231f20" stroke-width="1" />
<rect x="202.1" y="190.43" width="8.1" height="44.97" fill="#f39200" />
<line x1="206.15" y1="190.43" x2="206.15" y2="187.04" stroke="#3a3040" stroke-width="0.9" />
<line x1="204.25" y1="187.24" x2="208.05" y2="187.24" stroke="#3a3040" stroke-width="1.1" />
<line x1="206.15" y1="235.4" x2="206.15" y2="237.6" stroke="#231f20" stroke-width="0.8" />
<rect x="215.1" y="190.2" width="8.1" height="45.2" fill="#f39200" />
<line x1="219.15" y1="190.2" x2="219.15" y2="181.61" stroke="#6e5080" stroke-width="0.9" />
<line x1="217.25" y1="181.81" x2="221.05" y2="181.81" stroke="#3a3040" stroke-width="1.1" />
<line x1="219.15" y1="235.4" x2="219.15" y2="237.6" stroke="#231f20" stroke-width="0.8" />
<rect x="236.2" y="197.88" width="8.1" height="37.52" fill="#2ea7e0" />
<line x1="240.25" y1="197.88" x2="240.25" y2="193.36" stroke="#3a3040" stroke-width="0.9" />
<line x1="238.35" y1="193.56" x2="242.15" y2="193.56" stroke="#3a3040" stroke-width="1.1" />
<line x1="240.25" y1="235.4" x2="240.25" y2="237.6" stroke="#231f20" stroke-width="0.8" />
<rect x="249.2" y="214.61" width="8.1" height="20.79" fill="#2ea7e0" />
<line x1="253.25" y1="214.61" x2="253.25" y2="212.8" stroke="#3a3040" stroke-width="0.9" />
<line x1="251.35" y1="213" x2="255.15" y2="213" stroke="#3a3040" stroke-width="1.1" />
<line x1="253.25" y1="235.4" x2="253.25" y2="237.6" stroke="#231f20" stroke-width="0.8" />
<text x="253.25" y="212.89" font-size="5.4" stroke="#231f20" stroke-width="0.05" text-anchor="middle" textLength="2.3" lengthAdjust="spacingAndGlyphs">*</text>
<text x="206.15" y="247.3" font-size="6" stroke="#231f20" stroke-width="0.08" text-anchor="middle" textLength="3.84" lengthAdjust="spacingAndGlyphs">0</text>
<text x="219.15" y="247.3" font-size="6" stroke="#231f20" stroke-width="0.08" text-anchor="middle" textLength="7.67" lengthAdjust="spacingAndGlyphs">10</text>
<text x="240.25" y="247.3" font-size="6" stroke="#231f20" stroke-width="0.08" text-anchor="middle" textLength="3.84" lengthAdjust="spacingAndGlyphs">0</text>
<text x="253.25" y="247.3" font-size="6" stroke="#231f20" stroke-width="0.08" text-anchor="middle" textLength="7.67" lengthAdjust="spacingAndGlyphs">10</text>
<text x="229.7" y="258.8" font-size="8.2" word-spacing="1.2" stroke="#231f20" stroke-width="0.28" text-anchor="middle" textLength="35.5" lengthAdjust="spacingAndGlyphs">BAY-876 (nM)</text>
<text x="163.8" y="200.95" font-size="7.6" word-spacing="1.2" stroke="#231f20" stroke-width="0.28" text-anchor="middle" transform="rotate(-90 163.8 200.95)" textLength="24.7" lengthAdjust="spacingAndGlyphs">Cell count</text>
<text x="174" y="199.8" font-size="7.6" word-spacing="1.2" stroke="#231f20" stroke-width="0.28" text-anchor="middle" transform="rotate(-90 174 199.8)" textLength="39.6" lengthAdjust="spacingAndGlyphs">norm. to vehicle</text>
<rect x="231.2" y="166" width="5.9" height="2.9" fill="#f39200" />
<text x="239.8" y="169" font-size="5.8" textLength="16.8" lengthAdjust="spacingAndGlyphs">Vehicle</text>
<rect x="231.2" y="173.1" width="5.9" height="2.9" fill="#2ea7e0" />
<text x="239.8" y="176.3" font-size="5.8" textLength="21.9" lengthAdjust="spacingAndGlyphs">1&#181;M CQ</text>
<text x="7.2" y="289.2" font-size="10.2" stroke="#000" stroke-width="0.2" fill="#000" font-weight="bold">H</text>
<line x1="33.5" y1="306.3" x2="33.5" y2="370.65" stroke="#231f20" stroke-width="1.1" />
<line x1="31" y1="370.2" x2="33.5" y2="370.2" stroke="#231f20" stroke-width="0.8" />
<text x="27.4" y="372.15" font-size="5.4" stroke="#231f20" stroke-width="0.08" text-anchor="end" textLength="9.38" lengthAdjust="spacingAndGlyphs">0.6</text>
<line x1="31" y1="357.96" x2="33.5" y2="357.96" stroke="#231f20" stroke-width="0.8" />
<text x="27.4" y="359.91" font-size="5.4" stroke="#231f20" stroke-width="0.08" text-anchor="end" textLength="9.38" lengthAdjust="spacingAndGlyphs">0.7</text>
<line x1="31" y1="345.72" x2="33.5" y2="345.72" stroke="#231f20" stroke-width="0.8" />
<text x="27.4" y="347.67" font-size="5.4" stroke="#231f20" stroke-width="0.08" text-anchor="end" textLength="9.38" lengthAdjust="spacingAndGlyphs">0.8</text>
<line x1="31" y1="333.48" x2="33.5" y2="333.48" stroke="#231f20" stroke-width="0.8" />
<text x="27.4" y="335.43" font-size="5.4" stroke="#231f20" stroke-width="0.08" text-anchor="end" textLength="9.38" lengthAdjust="spacingAndGlyphs">0.9</text>
<line x1="31" y1="321.24" x2="33.5" y2="321.24" stroke="#231f20" stroke-width="0.8" />
<text x="27.4" y="323.19" font-size="5.4" stroke="#231f20" stroke-width="0.08" text-anchor="end" textLength="9.38" lengthAdjust="spacingAndGlyphs">1.0</text>
<line x1="31" y1="309" x2="33.5" y2="309" stroke="#231f20" stroke-width="0.8" />
<text x="27.4" y="310.95" font-size="5.4" stroke="#231f20" stroke-width="0.08" text-anchor="end" textLength="9.38" lengthAdjust="spacingAndGlyphs">1.1</text>
<line x1="32.3" y1="364.08" x2="33.5" y2="364.08" stroke="#231f20" stroke-width="0.7" />
<line x1="32.3" y1="351.84" x2="33.5" y2="351.84" stroke="#231f20" stroke-width="0.7" />
<line x1="32.3" y1="339.6" x2="33.5" y2="339.6" stroke="#231f20" stroke-width="0.7" />
<line x1="32.3" y1="327.36" x2="33.5" y2="327.36" stroke="#231f20" stroke-width="0.7" />
<line x1="32.3" y1="315.12" x2="33.5" y2="315.12" stroke="#231f20" stroke-width="0.7" />
<line x1="33.5" y1="370.2" x2="120.5" y2="370.2" stroke="#231f20" stroke-width="1" />
<line x1="33.5" y1="370.2" x2="33.5" y2="372.6" stroke="#231f20" stroke-width="0.8" />
<text x="33.5" y="381.2" font-size="5.8" stroke="#231f20" stroke-width="0.08" text-anchor="middle" textLength="3.55" lengthAdjust="spacingAndGlyphs">0</text>
<line x1="41.95" y1="370.2" x2="41.95" y2="371.6" stroke="#231f20" stroke-width="0.8" />
<line x1="50.4" y1="370.2" x2="50.4" y2="372.6" stroke="#231f20" stroke-width="0.8" />
<text x="50.4" y="381.2" font-size="5.8" stroke="#231f20" stroke-width="0.08" text-anchor="middle" textLength="3.55" lengthAdjust="spacingAndGlyphs">2</text>
<line x1="58.85" y1="370.2" x2="58.85" y2="371.6" stroke="#231f20" stroke-width="0.8" />
<line x1="67.3" y1="370.2" x2="67.3" y2="372.6" stroke="#231f20" stroke-width="0.8" />
<text x="67.3" y="381.2" font-size="5.8" stroke="#231f20" stroke-width="0.08" text-anchor="middle" textLength="3.55" lengthAdjust="spacingAndGlyphs">4</text>
<line x1="75.75" y1="370.2" x2="75.75" y2="371.6" stroke="#231f20" stroke-width="0.8" />
<line x1="84.2" y1="370.2" x2="84.2" y2="372.6" stroke="#231f20" stroke-width="0.8" />
<text x="84.2" y="381.2" font-size="5.8" stroke="#231f20" stroke-width="0.08" text-anchor="middle" textLength="3.55" lengthAdjust="spacingAndGlyphs">6</text>
<line x1="92.65" y1="370.2" x2="92.65" y2="371.6" stroke="#231f20" stroke-width="0.8" />
<line x1="101.1" y1="370.2" x2="101.1" y2="372.6" stroke="#231f20" stroke-width="0.8" />
<text x="101.1" y="381.2" font-size="5.8" stroke="#231f20" stroke-width="0.08" text-anchor="middle" textLength="3.55" lengthAdjust="spacingAndGlyphs">8</text>
<line x1="109.55" y1="370.2" x2="109.55" y2="371.6" stroke="#231f20" stroke-width="0.8" />
<line x1="118" y1="370.2" x2="118" y2="372.6" stroke="#231f20" stroke-width="0.8" />
<text x="118" y="381.2" font-size="5.8" stroke="#231f20" stroke-width="0.08" text-anchor="middle" textLength="7.1" lengthAdjust="spacingAndGlyphs">10</text>
<text x="77" y="393" font-size="8.2" word-spacing="1.2" stroke="#231f20" stroke-width="0.28" text-anchor="middle" textLength="12.5" lengthAdjust="spacingAndGlyphs">Days</text>
<text x="13.3" y="338.4" font-size="7.6" word-spacing="1.2" stroke="#231f20" stroke-width="0.28" text-anchor="middle" transform="rotate(-90 13.3 338.4)" textLength="38.4" lengthAdjust="spacingAndGlyphs">FC body weight</text>
<line x1="50.4" y1="327.36" x2="50.4" y2="326.14" stroke="#1d4e50" stroke-width="0.9" />
<line x1="49.4" y1="327.36" x2="51.4" y2="327.36" stroke="#1d4e50" stroke-width="0.9" />
<line x1="49.4" y1="326.14" x2="51.4" y2="326.14" stroke="#1d4e50" stroke-width="0.9" />
<line x1="58.85" y1="331.64" x2="58.85" y2="326.75" stroke="#1d4e50" stroke-width="0.9" />
<line x1="57.85" y1="331.64" x2="59.85" y2="331.64" stroke="#1d4e50" stroke-width="0.9" />
<line x1="57.85" y1="326.75" x2="59.85" y2="326.75" stroke="#1d4e50" stroke-width="0.9" />
<line x1="67.3" y1="332.87" x2="67.3" y2="324.3" stroke="#1d4e50" stroke-width="0.9" />
<line x1="66.3" y1="332.87" x2="68.3" y2="332.87" stroke="#1d4e50" stroke-width="0.9" />
<line x1="66.3" y1="324.3" x2="68.3" y2="324.3" stroke="#1d4e50" stroke-width="0.9" />
<line x1="75.75" y1="331.03" x2="75.75" y2="321.24" stroke="#1d4e50" stroke-width="0.9" />
<line x1="74.75" y1="331.03" x2="76.75" y2="331.03" stroke="#1d4e50" stroke-width="0.9" />
<line x1="74.75" y1="321.24" x2="76.75" y2="321.24" stroke="#1d4e50" stroke-width="0.9" />
<line x1="84.2" y1="328.83" x2="84.2" y2="319.04" stroke="#1d4e50" stroke-width="0.9" />
<line x1="83.2" y1="328.83" x2="85.2" y2="328.83" stroke="#1d4e50" stroke-width="0.9" />
<line x1="83.2" y1="319.04" x2="85.2" y2="319.04" stroke="#1d4e50" stroke-width="0.9" />
<line x1="92.65" y1="328.95" x2="92.65" y2="317.45" stroke="#1d4e50" stroke-width="0.9" />
<line x1="91.65" y1="328.95" x2="93.65" y2="328.95" stroke="#1d4e50" stroke-width="0.9" />
<line x1="91.65" y1="317.45" x2="93.65" y2="317.45" stroke="#1d4e50" stroke-width="0.9" />
<line x1="101.1" y1="330.42" x2="101.1" y2="317.69" stroke="#1d4e50" stroke-width="0.9" />
<line x1="100.1" y1="330.42" x2="102.1" y2="330.42" stroke="#1d4e50" stroke-width="0.9" />
<line x1="100.1" y1="317.69" x2="102.1" y2="317.69" stroke="#1d4e50" stroke-width="0.9" />
<line x1="109.55" y1="332.62" x2="109.55" y2="315.49" stroke="#1d4e50" stroke-width="0.9" />
<line x1="108.55" y1="332.62" x2="110.55" y2="332.62" stroke="#1d4e50" stroke-width="0.9" />
<line x1="108.55" y1="315.49" x2="110.55" y2="315.49" stroke="#1d4e50" stroke-width="0.9" />
<line x1="118" y1="335.32" x2="118" y2="316.96" stroke="#1d4e50" stroke-width="0.9" />
<line x1="117" y1="335.32" x2="119" y2="335.32" stroke="#1d4e50" stroke-width="0.9" />
<line x1="117" y1="316.96" x2="119" y2="316.96" stroke="#1d4e50" stroke-width="0.9" />
<path d="M41.95 321.24 C43.36 322.16 47.58 325.42 50.4 326.75 C53.22 328.07 56.03 328.89 58.85 329.2 C61.67 329.5 64.48 329.09 67.3 328.58 C70.12 328.07 72.93 326.91 75.75 326.14 C78.57 325.36 81.38 324.42 84.2 323.93 C87.02 323.44 89.83 323.18 92.65 323.2 C95.47 323.22 98.28 323.91 101.1 324.06 C103.92 324.2 106.73 323.71 109.55 324.06 C112.37 324.4 116.59 325.79 118 326.14" fill="none" stroke="#1b6e6c" stroke-width="1.2" />
<line x1="50.4" y1="323.08" x2="50.4" y2="320.63" stroke="#f2a33c" stroke-width="0.7" />
<line x1="49.2" y1="323.08" x2="51.6" y2="323.08" stroke="#f2a33c" stroke-width="0.7" />
<line x1="49.2" y1="320.63" x2="51.6" y2="320.63" stroke="#f2a33c" stroke-width="0.7" />
<line x1="58.85" y1="323.69" x2="58.85" y2="321.24" stroke="#f2a33c" stroke-width="0.7" />
<line x1="57.65" y1="323.69" x2="60.05" y2="323.69" stroke="#f2a33c" stroke-width="0.7" />
<line x1="57.65" y1="321.24" x2="60.05" y2="321.24" stroke="#f2a33c" stroke-width="0.7" />
<line x1="67.3" y1="324.3" x2="67.3" y2="320.63" stroke="#f2a33c" stroke-width="0.7" />
<line x1="66.1" y1="324.3" x2="68.5" y2="324.3" stroke="#f2a33c" stroke-width="0.7" />
<line x1="66.1" y1="320.63" x2="68.5" y2="320.63" stroke="#f2a33c" stroke-width="0.7" />
<line x1="75.75" y1="322.46" x2="75.75" y2="320.02" stroke="#f2a33c" stroke-width="0.7" />
<line x1="74.55" y1="322.46" x2="76.95" y2="322.46" stroke="#f2a33c" stroke-width="0.7" />
<line x1="74.55" y1="320.02" x2="76.95" y2="320.02" stroke="#f2a33c" stroke-width="0.7" />
<line x1="84.2" y1="324.91" x2="84.2" y2="320.02" stroke="#f2a33c" stroke-width="0.7" />
<line x1="83" y1="324.91" x2="85.4" y2="324.91" stroke="#f2a33c" stroke-width="0.7" />
<line x1="83" y1="320.02" x2="85.4" y2="320.02" stroke="#f2a33c" stroke-width="0.7" />
<line x1="92.65" y1="323.69" x2="92.65" y2="318.79" stroke="#f2a33c" stroke-width="0.7" />
<line x1="91.45" y1="323.69" x2="93.85" y2="323.69" stroke="#f2a33c" stroke-width="0.7" />
<line x1="91.45" y1="318.79" x2="93.85" y2="318.79" stroke="#f2a33c" stroke-width="0.7" />
<line x1="101.1" y1="320.02" x2="101.1" y2="317.57" stroke="#f2a33c" stroke-width="0.7" />
<line x1="99.9" y1="320.02" x2="102.3" y2="320.02" stroke="#f2a33c" stroke-width="0.7" />
<line x1="99.9" y1="317.57" x2="102.3" y2="317.57" stroke="#f2a33c" stroke-width="0.7" />
<line x1="109.55" y1="323.08" x2="109.55" y2="319.4" stroke="#f2a33c" stroke-width="0.7" />
<line x1="108.35" y1="323.08" x2="110.75" y2="323.08" stroke="#f2a33c" stroke-width="0.7" />
<line x1="108.35" y1="319.4" x2="110.75" y2="319.4" stroke="#f2a33c" stroke-width="0.7" />
<line x1="118" y1="321.85" x2="118" y2="319.4" stroke="#f2a33c" stroke-width="0.7" />
<line x1="116.8" y1="321.85" x2="119.2" y2="321.85" stroke="#f2a33c" stroke-width="0.7" />
<line x1="116.8" y1="319.4" x2="119.2" y2="319.4" stroke="#f2a33c" stroke-width="0.7" />
<path d="M41.95 321.24 C43.36 321.34 47.58 321.65 50.4 321.85 C53.22 322.06 56.03 322.36 58.85 322.46 C61.67 322.57 64.48 322.67 67.3 322.46 C70.12 322.26 72.93 321.24 75.75 321.24 C78.57 321.24 81.38 322.46 84.2 322.46 C87.02 322.46 89.83 321.85 92.65 321.24 C95.47 320.63 98.28 318.79 101.1 318.79 C103.92 318.79 106.73 320.93 109.55 321.24 C112.37 321.55 116.59 320.73 118 320.63" fill="none" stroke="#f2a33c" stroke-width="1.2" />
<circle cx="41.95" cy="321.24" r="1" fill="#1b6e6c" />
<circle cx="41.95" cy="321.24" r="1" fill="#f2a33c" />
<circle cx="50.4" cy="326.75" r="1" fill="#1b6e6c" />
<circle cx="50.4" cy="321.85" r="1" fill="#f2a33c" />
<circle cx="58.85" cy="329.2" r="1" fill="#1b6e6c" />
<circle cx="58.85" cy="322.46" r="1" fill="#f2a33c" />
<circle cx="67.3" cy="328.58" r="1" fill="#1b6e6c" />
<circle cx="67.3" cy="322.46" r="1" fill="#f2a33c" />
<circle cx="75.75" cy="326.14" r="1" fill="#1b6e6c" />
<circle cx="75.75" cy="321.24" r="1" fill="#f2a33c" />
<circle cx="84.2" cy="323.93" r="1" fill="#1b6e6c" />
<circle cx="84.2" cy="322.46" r="1" fill="#f2a33c" />
<circle cx="92.65" cy="323.2" r="1" fill="#1b6e6c" />
<circle cx="92.65" cy="321.24" r="1" fill="#f2a33c" />
<circle cx="101.1" cy="324.06" r="1" fill="#1b6e6c" />
<circle cx="101.1" cy="318.79" r="1" fill="#f2a33c" />
<circle cx="109.55" cy="324.06" r="1" fill="#1b6e6c" />
<circle cx="109.55" cy="321.24" r="1" fill="#f2a33c" />
<circle cx="118" cy="326.14" r="1" fill="#1b6e6c" />
<circle cx="118" cy="320.63" r="1" fill="#f2a33c" />
<line x1="35.8" y1="358.2" x2="41.6" y2="358.2" stroke="#f2a33c" stroke-width="1" />
<circle cx="38.7" cy="358.2" r="1" fill="#f2a33c" />
<text x="44.3" y="360" font-size="5.8" fill="#5b6478" textLength="17.5" lengthAdjust="spacingAndGlyphs">Vehicle</text>
<line x1="35.8" y1="364.8" x2="41.6" y2="364.8" stroke="#1b6e6c" stroke-width="1" />
<circle cx="38.7" cy="364.8" r="1" fill="#1b6e6c" />
<text x="44.3" y="366.6" font-size="5.8" textLength="21.2" lengthAdjust="spacingAndGlyphs">BAY-876</text>
<text x="136.8" y="289.3" font-size="10.2" stroke="#000" stroke-width="0.2" fill="#000" font-weight="bold">I</text>
<defs><linearGradient id="ph" x1="0" x2="1" y1="0" y2="0.3"><stop offset="0" stop-color="#fae4bc"/><stop offset="0.55" stop-color="#fce7bf"/><stop offset="1" stop-color="#fde6b9"/></linearGradient><radialGradient id="sp" cx="0.5" cy="0.45" r="0.6"><stop offset="0" stop-color="#843017"/><stop offset="0.5" stop-color="#5a170a"/><stop offset="1" stop-color="#380803"/></radialGradient><linearGradient id="ru" x1="0" x2="0" y1="0" y2="1"><stop offset="0" stop-color="#f0d6b8"/><stop offset="1" stop-color="#f7e6d3"/></linearGradient></defs>
<rect x="141.3" y="299.7" width="58.3" height="60.2" fill="url(#ph)" />
<rect x="141.3" y="348.6" width="58.3" height="11.3" fill="url(#ru)" />
<line x1="141.3" y1="348.8" x2="199.6" y2="348.8" stroke="#dcc0a2" stroke-width="0.6" />
<line x1="142" y1="349" x2="142" y2="351" stroke="#b09a88" stroke-width="0.35" />
<line x1="143" y1="349" x2="143" y2="350.2" stroke="#b09a88" stroke-width="0.35" />
<line x1="144" y1="349" x2="144" y2="350.2" stroke="#b09a88" stroke-width="0.35" />
<line x1="145" y1="349" x2="145" y2="350.2" stroke="#b09a88" stroke-width="0.35" />
<line x1="146" y1="349" x2="146" y2="350.2" stroke="#b09a88" stroke-width="0.35" />
<line x1="147" y1="349" x2="147" y2="351" stroke="#b09a88" stroke-width="0.35" />
<line x1="148" y1="349" x2="148" y2="350.2" stroke="#b09a88" stroke-width="0.35" />
<line x1="149" y1="349" x2="149" y2="350.2" stroke="#b09a88" stroke-width="0.35" />
<line x1="150" y1="349" x2="150" y2="350.2" stroke="#b09a88" stroke-width="0.35" />
<line x1="151" y1="349" x2="151" y2="350.2" stroke="#b09a88" stroke-width="0.35" />
<line x1="152" y1="349" x2="152" y2="351" stroke="#b09a88" stroke-width="0.35" />
<line x1="153" y1="349" x2="153" y2="350.2" stroke="#b09a88" stroke-width="0.35" />
<line x1="154" y1="349" x2="154" y2="350.2" stroke="#b09a88" stroke-width="0.35" />
<line x1="155" y1="349" x2="155" y2="350.2" stroke="#b09a88" stroke-width="0.35" />
<line x1="156" y1="349" x2="156" y2="350.2" stroke="#b09a88" stroke-width="0.35" />
<line x1="157" y1="349" x2="157" y2="351" stroke="#b09a88" stroke-width="0.35" />
<line x1="158" y1="349" x2="158" y2="350.2" stroke="#b09a88" stroke-width="0.35" />
<line x1="159" y1="349" x2="159" y2="350.2" stroke="#b09a88" stroke-width="0.35" />
<line x1="160" y1="349" x2="160" y2="350.2" stroke="#b09a88" stroke-width="0.35" />
<line x1="161" y1="349" x2="161" y2="350.2" stroke="#b09a88" stroke-width="0.35" />
<line x1="162" y1="349" x2="162" y2="351" stroke="#b09a88" stroke-width="0.35" />
<line x1="163" y1="349" x2="163" y2="350.2" stroke="#b09a88" stroke-width="0.35" />
<line x1="164" y1="349" x2="164" y2="350.2" stroke="#b09a88" stroke-width="0.35" />
<line x1="165" y1="349" x2="165" y2="350.2" stroke="#b09a88" stroke-width="0.35" />
<line x1="166" y1="349" x2="166" y2="350.2" stroke="#b09a88" stroke-width="0.35" />
<line x1="167" y1="349" x2="167" y2="351" stroke="#b09a88" stroke-width="0.35" />
<line x1="168" y1="349" x2="168" y2="350.2" stroke="#b09a88" stroke-width="0.35" />
<line x1="169" y1="349" x2="169" y2="350.2" stroke="#b09a88" stroke-width="0.35" />
<line x1="170" y1="349" x2="170" y2="350.2" stroke="#b09a88" stroke-width="0.35" />
<line x1="171" y1="349" x2="171" y2="350.2" stroke="#b09a88" stroke-width="0.35" />
<line x1="172" y1="349" x2="172" y2="351" stroke="#b09a88" stroke-width="0.35" />
<line x1="173" y1="349" x2="173" y2="350.2" stroke="#b09a88" stroke-width="0.35" />
<line x1="174" y1="349" x2="174" y2="350.2" stroke="#b09a88" stroke-width="0.35" />
<line x1="175" y1="349" x2="175" y2="350.2" stroke="#b09a88" stroke-width="0.35" />
<line x1="176" y1="349" x2="176" y2="350.2" stroke="#b09a88" stroke-width="0.35" />
<line x1="177" y1="349" x2="177" y2="351" stroke="#b09a88" stroke-width="0.35" />
<line x1="178" y1="349" x2="178" y2="350.2" stroke="#b09a88" stroke-width="0.35" />
<line x1="179" y1="349" x2="179" y2="350.2" stroke="#b09a88" stroke-width="0.35" />
<line x1="180" y1="349" x2="180" y2="350.2" stroke="#b09a88" stroke-width="0.35" />
<line x1="181" y1="349" x2="181" y2="350.2" stroke="#b09a88" stroke-width="0.35" />
<line x1="182" y1="349" x2="182" y2="351" stroke="#b09a88" stroke-width="0.35" />
<line x1="183" y1="349" x2="183" y2="350.2" stroke="#b09a88" stroke-width="0.35" />
<line x1="184" y1="349" x2="184" y2="350.2" stroke="#b09a88" stroke-width="0.35" />
<line x1="185" y1="349" x2="185" y2="350.2" stroke="#b09a88" stroke-width="0.35" />
<line x1="186" y1="349" x2="186" y2="350.2" stroke="#b09a88" stroke-width="0.35" />
<line x1="187" y1="349" x2="187" y2="351" stroke="#b09a88" stroke-width="0.35" />
<line x1="188" y1="349" x2="188" y2="350.2" stroke="#b09a88" stroke-width="0.35" />
<line x1="189" y1="349" x2="189" y2="350.2" stroke="#b09a88" stroke-width="0.35" />
<line x1="190" y1="349" x2="190" y2="350.2" stroke="#b09a88" stroke-width="0.35" />
<line x1="191" y1="349" x2="191" y2="350.2" stroke="#b09a88" stroke-width="0.35" />
<line x1="192" y1="349" x2="192" y2="351" stroke="#b09a88" stroke-width="0.35" />
<line x1="193" y1="349" x2="193" y2="350.2" stroke="#b09a88" stroke-width="0.35" />
<line x1="194" y1="349" x2="194" y2="350.2" stroke="#b09a88" stroke-width="0.35" />
<line x1="195" y1="349" x2="195" y2="350.2" stroke="#b09a88" stroke-width="0.35" />
<line x1="196" y1="349" x2="196" y2="350.2" stroke="#b09a88" stroke-width="0.35" />
<line x1="197" y1="349" x2="197" y2="351" stroke="#b09a88" stroke-width="0.35" />
<line x1="198" y1="349" x2="198" y2="350.2" stroke="#b09a88" stroke-width="0.35" />
<line x1="199" y1="349" x2="199" y2="350.2" stroke="#b09a88" stroke-width="0.35" />
<text x="144.4" y="357.3" font-size="4.6" stroke="#3e2a1e" stroke-width="0.1" text-anchor="middle" fill="#3e2a1e">0</text>
<text x="156.7" y="357.3" font-size="4.6" stroke="#3e2a1e" stroke-width="0.1" text-anchor="middle" fill="#3e2a1e">1</text>
<text x="168.3" y="357.3" font-size="4.6" stroke="#3e2a1e" stroke-width="0.1" text-anchor="middle" fill="#3e2a1e">2</text>
<text x="180.6" y="357.3" font-size="4.6" stroke="#3e2a1e" stroke-width="0.1" text-anchor="middle" fill="#3e2a1e">3</text>
<text x="192.8" y="357.3" font-size="4.6" stroke="#3e2a1e" stroke-width="0.1" text-anchor="middle" fill="#3e2a1e">4</text>
<path d="M146.4 302 C146.98 302 147.57 302.53 148 303.42 C148.43 304.3 148.78 305.92 149 307.31 C149.22 308.7 149.28 310.26 149.3 311.74 C149.32 313.21 149.27 315.04 149.1 316.16 C148.93 317.28 148.75 317.87 148.3 318.46 C147.85 319.05 147.03 319.7 146.4 319.7 C145.77 319.7 144.93 319.05 144.5 318.46 C144.07 317.87 143.95 317.28 143.8 316.16 C143.65 315.04 143.62 313.21 143.6 311.74 C143.58 310.26 143.55 308.7 143.7 307.31 C143.85 305.92 144.05 304.3 144.5 303.42 C144.95 302.53 145.82 302 146.4 302 Z" fill="url(#sp)" />
<path d="M157 303.8 C157.57 303.8 158.17 304.28 158.6 305.07 C159.03 305.87 159.38 307.32 159.6 308.57 C159.82 309.82 159.9 311.22 159.9 312.55 C159.9 313.87 159.78 315.51 159.6 316.52 C159.42 317.53 159.23 318.06 158.8 318.59 C158.37 319.12 157.6 319.7 157 319.7 C156.4 319.7 155.62 319.12 155.2 318.59 C154.78 318.06 154.65 317.53 154.5 316.52 C154.35 315.51 154.32 313.87 154.3 312.55 C154.28 311.22 154.25 309.82 154.4 308.57 C154.55 307.32 154.77 305.87 155.2 305.07 C155.63 304.28 156.43 303.8 157 303.8 Z" fill="url(#sp)" />
<path d="M168.4 305.5 C170.3 305.6 170.6 307.5 170.1 309.5 C169.6 311.7 169.6 313.8 170.3 316.3 C170.7 318.5 169.6 319.8 167.8 319.6 C165.7 319.3 165.2 316.2 165.2 312.5 C165.2 308.5 166.4 305.4 168.4 305.5 Z" fill="url(#sp)" />
<path d="M176.6 305 C179.6 305.2 182.4 308.4 182.4 312.5 C182.4 316.6 180.2 319.7 177 319.7 C175.5 319.7 175.2 318.6 175.8 317.2 C176.7 315.4 177.2 313.6 177.0 311.6 C176.8 309.6 175.8 308.2 175.6 306.6 C175.5 305.6 175.8 305 176.6 305 Z" fill="url(#sp)" />
<path d="M146.1 329.2 C146.6 329.2 147.25 329.86 147.6 330.53 C147.95 331.19 148.03 332.41 148.2 333.19 C148.37 333.97 148.6 334.52 148.6 335.19 C148.6 335.85 148.25 336.4 148.2 337.18 C148.15 337.96 148.38 339.11 148.3 339.84 C148.22 340.57 148.07 341.13 147.7 341.57 C147.33 342.01 146.63 342.5 146.1 342.5 C145.57 342.5 144.87 342.01 144.5 341.57 C144.13 341.13 144 340.57 143.9 339.84 C143.8 339.11 143.98 337.96 143.9 337.18 C143.82 336.4 143.4 335.85 143.4 335.19 C143.4 334.52 143.7 333.97 143.9 333.19 C144.1 332.41 144.23 331.19 144.6 330.53 C144.97 329.86 145.6 329.2 146.1 329.2 Z" fill="url(#sp)" />
<path d="M157.1 328 C157.6 328 158.23 328.72 158.6 329.45 C158.97 330.18 159.12 331.38 159.3 332.35 C159.48 333.32 159.72 334.4 159.7 335.25 C159.68 336.1 159.27 336.65 159.2 337.43 C159.13 338.2 159.38 339.19 159.3 339.89 C159.22 340.59 159.07 341.19 158.7 341.63 C158.33 342.06 157.63 342.5 157.1 342.5 C156.57 342.5 155.88 342.06 155.5 341.63 C155.12 341.19 154.9 340.59 154.8 339.89 C154.7 339.19 154.97 338.2 154.9 337.43 C154.83 336.65 154.42 336.1 154.4 335.25 C154.38 334.4 154.6 333.32 154.8 332.35 C155 331.38 155.22 330.18 155.6 329.45 C155.98 328.72 156.6 328 157.1 328 Z" fill="url(#sp)" />
<path d="M166.3 329.2 C166.77 329.2 167.37 329.86 167.7 330.53 C168.03 331.19 168.2 332.19 168.3 333.19 C168.4 334.19 168.3 335.41 168.3 336.51 C168.3 337.62 168.38 339 168.3 339.84 C168.22 340.68 168.13 341.13 167.8 341.57 C167.47 342.01 166.8 342.5 166.3 342.5 C165.8 342.5 165.15 342.01 164.8 341.57 C164.45 341.13 164.3 340.68 164.2 339.84 C164.1 339 164.18 337.62 164.2 336.51 C164.22 335.41 164.18 334.19 164.3 333.19 C164.42 332.19 164.57 331.19 164.9 330.53 C165.23 329.86 165.83 329.2 166.3 329.2 Z" fill="url(#sp)" />
<path d="M176 330 C176.43 330 176.98 330.62 177.3 331.25 C177.62 331.88 177.8 332.81 177.9 333.75 C178 334.69 177.9 335.83 177.9 336.88 C177.9 337.92 177.98 339.21 177.9 340 C177.82 340.79 177.72 341.21 177.4 341.62 C177.08 342.04 176.47 342.5 176 342.5 C175.53 342.5 174.93 342.04 174.6 341.62 C174.27 341.21 174.1 340.79 174 340 C173.9 339.21 173.98 337.92 174 336.88 C174.02 335.83 173.98 334.69 174.1 333.75 C174.22 332.81 174.38 331.88 174.7 331.25 C175.02 330.62 175.57 330 176 330 Z" fill="url(#sp)" />
<path d="M185.3 329.2 C185.77 329.2 186.37 329.86 186.7 330.53 C187.03 331.19 187.2 332.19 187.3 333.19 C187.4 334.19 187.3 335.41 187.3 336.51 C187.3 337.62 187.38 339 187.3 339.84 C187.22 340.68 187.13 341.13 186.8 341.57 C186.47 342.01 185.8 342.5 185.3 342.5 C184.8 342.5 184.15 342.01 183.8 341.57 C183.45 341.13 183.3 340.68 183.2 339.84 C183.1 339 183.18 337.62 183.2 336.51 C183.22 335.41 183.18 334.19 183.3 333.19 C183.42 332.19 183.57 331.19 183.9 330.53 C184.23 329.86 184.83 329.2 185.3 329.2 Z" fill="url(#sp)" />
<path d="M194.1 329.8 C194.57 329.8 195.15 330.44 195.5 331.07 C195.85 331.7 196.08 332.66 196.2 333.61 C196.32 334.56 196.2 335.73 196.2 336.79 C196.2 337.84 196.3 339.16 196.2 339.96 C196.1 340.76 195.95 341.19 195.6 341.61 C195.25 342.03 194.6 342.5 194.1 342.5 C193.6 342.5 192.97 342.03 192.6 341.61 C192.23 341.19 192.02 340.76 191.9 339.96 C191.78 339.16 191.88 337.84 191.9 336.79 C191.92 335.73 191.87 334.56 192 333.61 C192.13 332.66 192.35 331.7 192.7 331.07 C193.05 330.44 193.63 329.8 194.1 329.8 Z" fill="url(#sp)" />
<text x="202" y="314.2" font-size="6.8" stroke="#231f20" stroke-width="0.12" textLength="19.4" lengthAdjust="spacingAndGlyphs">Vehicle</text>
<text x="202" y="338.8" font-size="6.8" stroke="#231f20" stroke-width="0.12" textLength="23.4" lengthAdjust="spacingAndGlyphs">BAY-876</text>
<text x="244.7" y="289.2" font-size="10.2" stroke="#000" stroke-width="0.2" fill="#000" font-weight="bold" textLength="4.4" lengthAdjust="spacingAndGlyphs">J</text>
<line x1="274.1" y1="299.1" x2="274.1" y2="370.35" stroke="#231f20" stroke-width="1.1" />
<line x1="271.4" y1="369.9" x2="274.1" y2="369.9" stroke="#231f20" stroke-width="0.8" />
<text x="267.6" y="371.85" font-size="5.7" stroke="#231f20" stroke-width="0.08" text-anchor="end" textLength="3.17" lengthAdjust="spacingAndGlyphs">0</text>
<line x1="271.4" y1="335.85" x2="274.1" y2="335.85" stroke="#231f20" stroke-width="0.8" />
<text x="267.6" y="337.8" font-size="5.7" stroke="#231f20" stroke-width="0.08" text-anchor="end" textLength="6.34" lengthAdjust="spacingAndGlyphs">50</text>
<line x1="271.4" y1="301.8" x2="274.1" y2="301.8" stroke="#231f20" stroke-width="0.8" />
<text x="267.6" y="303.75" font-size="5.7" stroke="#231f20" stroke-width="0.08" text-anchor="end" textLength="9.51" lengthAdjust="spacingAndGlyphs">100</text>
<line x1="272.5" y1="352.88" x2="274.1" y2="352.88" stroke="#231f20" stroke-width="0.7" />
<line x1="272.5" y1="318.82" x2="274.1" y2="318.82" stroke="#231f20" stroke-width="0.7" />
<line x1="274.1" y1="369.9" x2="358.4" y2="369.9" stroke="#231f20" stroke-width="1" />
<rect x="278.6" y="309.97" width="8.1" height="59.93" fill="#f39200" />
<line x1="282.65" y1="309.97" x2="282.65" y2="308.95" stroke="#f39200" stroke-width="0.9" />
<line x1="280.75" y1="309.15" x2="284.55" y2="309.15" stroke="#f39200" stroke-width="1.1" />
<rect x="291.8" y="337.89" width="8.1" height="32.01" fill="#1a6b55" />
<line x1="295.85" y1="337.89" x2="295.85" y2="333.81" stroke="#1a6b55" stroke-width="0.9" />
<line x1="293.95" y1="334.01" x2="297.75" y2="334.01" stroke="#1a6b55" stroke-width="1.1" />
<rect x="306.1" y="311.33" width="8.1" height="58.57" fill="#f39200" />
<line x1="310.15" y1="311.33" x2="310.15" y2="310.11" stroke="#f39200" stroke-width="0.9" />
<line x1="308.25" y1="310.31" x2="312.05" y2="310.31" stroke="#f39200" stroke-width="1.1" />
<rect x="319.1" y="354.58" width="8.1" height="15.32" fill="#1a6b55" />
<line x1="323.15" y1="354.58" x2="323.15" y2="349.81" stroke="#1a6b55" stroke-width="0.9" />
<line x1="321.25" y1="350.01" x2="325.05" y2="350.01" stroke="#1a6b55" stroke-width="1.1" />
<rect x="333.1" y="359.69" width="8.1" height="10.21" fill="#f39200" />
<line x1="337.15" y1="359.69" x2="337.15" y2="351.85" stroke="#f39200" stroke-width="0.9" />
<line x1="335.25" y1="352.05" x2="339.05" y2="352.05" stroke="#f39200" stroke-width="1.1" />
<rect x="346.2" y="369.08" width="8.1" height="0.82" fill="#1a6b55" />
<line x1="350.25" y1="369.08" x2="350.25" y2="367.31" stroke="#1a6b55" stroke-width="0.9" />
<line x1="348.35" y1="367.51" x2="352.15" y2="367.51" stroke="#1a6b55" stroke-width="1.1" />
<line x1="289.3" y1="369.9" x2="289.3" y2="372.1" stroke="#231f20" stroke-width="0.8" />
<line x1="316.6" y1="369.9" x2="316.6" y2="372.1" stroke="#231f20" stroke-width="0.8" />
<line x1="343.9" y1="369.9" x2="343.9" y2="372.1" stroke="#231f20" stroke-width="0.8" />
<line x1="282.9" y1="304.4" x2="296.9" y2="304.4" stroke="#231f20" stroke-width="0.9" />
<text x="289.9" y="304.49" font-size="5.4" stroke="#231f20" stroke-width="0.05" text-anchor="middle" textLength="4.6" lengthAdjust="spacingAndGlyphs">**</text>
<line x1="309.6" y1="304.4" x2="323.9" y2="304.4" stroke="#231f20" stroke-width="0.9" />
<text x="316.8" y="304.49" font-size="5.4" stroke="#231f20" stroke-width="0.05" text-anchor="middle" textLength="4.6" lengthAdjust="spacingAndGlyphs">**</text>
<line x1="336.7" y1="348.6" x2="351" y2="348.6" stroke="#231f20" stroke-width="0.7" />
<text x="343.8" y="346.3" font-size="5.4" text-anchor="middle">ns (0.07)</text>
<text x="291.9" y="379.5" font-size="5.9" stroke="#231f20" stroke-width="0.08" text-anchor="end" transform="rotate(-45 291.9 379.5)">BM</text>
<text x="319.2" y="379.5" font-size="5.9" stroke="#231f20" stroke-width="0.08" text-anchor="end" transform="rotate(-45 319.2 379.5)">Spleen</text>
<text x="346.5" y="379.5" font-size="5.9" stroke="#231f20" stroke-width="0.08" text-anchor="end" transform="rotate(-45 346.5 379.5)">Blood</text>
<text x="251.8" y="335" font-size="7.6" stroke="#231f20" stroke-width="0.28" text-anchor="middle" transform="rotate(-90 251.8 335)" textLength="63.6" lengthAdjust="spacingAndGlyphs">% dsRed<tspan font-size="4.2" dy="-2.4">+</tspan><tspan dy="2.4"> leukemia cells</tspan></text>
<rect x="333.9" y="300.9" width="6.9" height="2.8" fill="#f39200" />
<text x="343.9" y="304" font-size="5.6" fill="#3a3a4a" textLength="17.5" lengthAdjust="spacingAndGlyphs">Vehicle</text>
<rect x="333.9" y="308.4" width="6.9" height="2.8" fill="#17533f" />
<text x="343.9" y="311.6" font-size="5.6" textLength="21.7" lengthAdjust="spacingAndGlyphs">BAY-876</text>
<text x="380.9" y="289.2" font-size="10.2" stroke="#000" stroke-width="0.2" fill="#000" font-weight="bold">K</text>
<line x1="409.7" y1="307.7" x2="409.7" y2="370.65" stroke="#231f20" stroke-width="1.1" />
<line x1="407.3" y1="370.2" x2="409.7" y2="370.2" stroke="#231f20" stroke-width="0.8" />
<text x="404.2" y="372.15" font-size="5.4" stroke="#231f20" stroke-width="0.08" text-anchor="end" textLength="3.6" lengthAdjust="spacingAndGlyphs">0</text>
<line x1="407.3" y1="355.2" x2="409.7" y2="355.2" stroke="#231f20" stroke-width="0.8" />
<text x="404.2" y="357.15" font-size="5.4" stroke="#231f20" stroke-width="0.08" text-anchor="end" textLength="7.21" lengthAdjust="spacingAndGlyphs">25</text>
<line x1="407.3" y1="340.2" x2="409.7" y2="340.2" stroke="#231f20" stroke-width="0.8" />
<text x="404.2" y="342.15" font-size="5.4" stroke="#231f20" stroke-width="0.08" text-anchor="end" textLength="7.21" lengthAdjust="spacingAndGlyphs">50</text>
<line x1="407.3" y1="325.2" x2="409.7" y2="325.2" stroke="#231f20" stroke-width="0.8" />
<text x="404.2" y="327.15" font-size="5.4" stroke="#231f20" stroke-width="0.08" text-anchor="end" textLength="7.21" lengthAdjust="spacingAndGlyphs">75</text>
<line x1="407.3" y1="310.2" x2="409.7" y2="310.2" stroke="#231f20" stroke-width="0.8" />
<text x="404.2" y="312.15" font-size="5.4" stroke="#231f20" stroke-width="0.08" text-anchor="end" textLength="10.81" lengthAdjust="spacingAndGlyphs">100</text>
<line x1="408.5" y1="362.7" x2="409.7" y2="362.7" stroke="#231f20" stroke-width="0.7" />
<line x1="408.5" y1="347.7" x2="409.7" y2="347.7" stroke="#231f20" stroke-width="0.7" />
<line x1="408.5" y1="332.7" x2="409.7" y2="332.7" stroke="#231f20" stroke-width="0.7" />
<line x1="408.5" y1="317.7" x2="409.7" y2="317.7" stroke="#231f20" stroke-width="0.7" />
<line x1="409.7" y1="370.2" x2="509.5" y2="370.2" stroke="#231f20" stroke-width="1" />
<line x1="409.7" y1="370.2" x2="409.7" y2="372.4" stroke="#231f20" stroke-width="0.8" />
<text x="409.7" y="381.8" font-size="6" stroke="#231f20" stroke-width="0.08" text-anchor="middle" textLength="3.34" lengthAdjust="spacingAndGlyphs">0</text>
<line x1="429.6" y1="370.2" x2="429.6" y2="372.4" stroke="#231f20" stroke-width="0.8" />
<text x="429.6" y="381.8" font-size="6" stroke="#231f20" stroke-width="0.08" text-anchor="middle" textLength="3.34" lengthAdjust="spacingAndGlyphs">5</text>
<line x1="449.5" y1="370.2" x2="449.5" y2="372.4" stroke="#231f20" stroke-width="0.8" />
<text x="449.5" y="381.8" font-size="6" stroke="#231f20" stroke-width="0.08" text-anchor="middle" textLength="6.67" lengthAdjust="spacingAndGlyphs">10</text>
<line x1="469.4" y1="370.2" x2="469.4" y2="372.4" stroke="#231f20" stroke-width="0.8" />
<text x="469.4" y="381.8" font-size="6" stroke="#231f20" stroke-width="0.08" text-anchor="middle" textLength="6.67" lengthAdjust="spacingAndGlyphs">15</text>
<line x1="489.3" y1="370.2" x2="489.3" y2="372.4" stroke="#231f20" stroke-width="0.8" />
<text x="489.3" y="381.8" font-size="6" stroke="#231f20" stroke-width="0.08" text-anchor="middle" textLength="6.67" lengthAdjust="spacingAndGlyphs">20</text>
<line x1="509.2" y1="370.2" x2="509.2" y2="372.4" stroke="#231f20" stroke-width="0.8" />
<text x="509.2" y="381.8" font-size="6" stroke="#231f20" stroke-width="0.08" text-anchor="middle" textLength="6.67" lengthAdjust="spacingAndGlyphs">25</text>
<path d="M409.7 310.2 L465.42 310.2 L465.42 330.18 L469.4 330.18 L469.4 360.18 L473.38 360.18 L473.38 370.2" fill="none" stroke="#f2a33c" stroke-width="1" />
<path d="M465.42 310.2 L489.3 310.2 L489.3 334.2 L493.28 334.2 L493.28 358.2 L497.26 358.2 L497.26 370.2" fill="none" stroke="#217a6e" stroke-width="1" />
<text x="460.5" y="393.1" font-size="8.2" word-spacing="1.2" stroke="#231f20" stroke-width="0.28" text-anchor="middle" textLength="32.6" lengthAdjust="spacingAndGlyphs">Days elapsed</text>
<text x="387.9" y="338.9" font-size="7.6" word-spacing="1.2" stroke="#231f20" stroke-width="0.28" text-anchor="middle" transform="rotate(-90 387.9 338.9)" textLength="31.8" lengthAdjust="spacingAndGlyphs">Survival (%)</text>
<line x1="412.3" y1="360.1" x2="417.5" y2="360.1" stroke="#f2a33c" stroke-width="1" />
<text x="419" y="362" font-size="5.4" fill="#555" textLength="18.3" lengthAdjust="spacingAndGlyphs">Vehicle</text>
<line x1="412.3" y1="366.8" x2="417.5" y2="366.8" stroke="#217a6e" stroke-width="1" />
<text x="419" y="368.7" font-size="5.4" textLength="20.5" lengthAdjust="spacingAndGlyphs">BAY-876</text>
<path d="M442.6 358.6 L441.7 358.6 L441.7 366.6 L442.6 366.6" fill="none" stroke="#555" stroke-width="0.6" />
<text x="443.9" y="364.3" font-size="5.6" textLength="25.3" lengthAdjust="spacingAndGlyphs"><tspan font-style="italic">P</tspan> = .0014</text>
<text x="277.1" y="155" font-size="10.2" stroke="#000" stroke-width="0.2" fill="#000" font-weight="bold">G</text>
<circle cx="305.6" cy="167.9" r="3.3" fill="#f8c9a0" stroke="#f2b487" stroke-width="0.35"/>
<circle cx="313.9" cy="167.6" r="3.3" fill="#f8c9a0" stroke="#f2b487" stroke-width="0.35"/>
<circle cx="305.2" cy="173.1" r="3.3" fill="#f8c9a0" stroke="#f2b487" stroke-width="0.35"/>
<circle cx="314.2" cy="173" r="3.3" fill="#f8c9a0" stroke="#f2b487" stroke-width="0.35"/>
<circle cx="305.9" cy="177.4" r="3.3" fill="#f8c9a0" stroke="#f2b487" stroke-width="0.35"/>
<circle cx="314.3" cy="177.3" r="3.3" fill="#f8c9a0" stroke="#f2b487" stroke-width="0.35"/>
<circle cx="317.2" cy="175.5" r="3.3" fill="#f8c9a0" stroke="#f2b487" stroke-width="0.35"/>
<circle cx="309.8" cy="175.3" r="3.3" fill="#f8c9a0" stroke="#f2b487" stroke-width="0.35"/>
<circle cx="309.8" cy="170.3" r="3.3" fill="#f8c9a0" stroke="#f2b487" stroke-width="0.35"/>
<text x="309.2" y="189.4" font-size="5.3" text-anchor="middle" textLength="53.6" lengthAdjust="spacingAndGlyphs"><tspan font-style="italic">MLL::AF9</tspan> dsRed<tspan font-size="4.2" dy="-2.2">+</tspan><tspan dy="2.2"> c-Kit</tspan><tspan font-size="4.2" dy="-2.2">+</tspan></text>
<text x="312.1" y="195.8" font-size="5.3" text-anchor="middle" textLength="46.5" lengthAdjust="spacingAndGlyphs">Cas9<tspan font-size="4.2" dy="-2.2">+</tspan><tspan dy="2.2"> leukemia cells</tspan></text>
<line x1="311.4" y1="200.3" x2="317.6" y2="210.6" stroke="#8a8a8a" stroke-width="1" stroke-dasharray="1.3 0.7"/>
<path d="M330.96 211.7 C331.01 210.93 331.18 209.89 331.54 209.14 C331.91 208.38 332.48 207.66 333.15 207.16 C333.82 206.66 334.49 206.4 335.56 206.14 C336.64 205.88 338.45 205.75 339.58 205.63 C340.72 205.51 341.81 205.57 342.36 205.41 C342.91 205.25 342.65 204.85 342.87 204.68 C343.09 204.51 343.45 204.31 343.68 204.39 C343.91 204.46 343.85 204.78 344.26 205.12 C344.68 205.46 345.6 205.99 346.16 206.43 C346.72 206.87 347.31 207.37 347.63 207.75 C347.94 208.13 348.16 208.36 348.06 208.7 C347.97 209.04 347.54 209.42 347.04 209.8 C346.54 210.17 345.7 210.53 345.07 210.96 C344.43 211.4 343.48 211.84 343.24 212.43 C343 213.01 343.22 214.01 343.61 214.47 C344 214.94 345.34 215.01 345.58 215.2 C345.82 215.4 345.51 215.59 345.07 215.64 C344.63 215.69 343.54 215.69 342.95 215.5 C342.35 215.3 342.23 214.66 341.49 214.47 C340.74 214.29 339.39 214.3 338.49 214.4 C337.59 214.5 336.84 214.83 336.08 215.06 C335.31 215.29 334.54 215.74 333.88 215.79 C333.23 215.84 332.57 215.69 332.13 215.35 C331.69 215.01 331.45 214.35 331.25 213.74 C331.06 213.13 330.91 212.46 330.96 211.7 Z" fill="#141414" />
<path d="M331.25 211.84 C330.57 211.84 328.69 211.78 327.16 211.84 C325.62 211.9 323.41 211.96 322.04 212.21 C320.68 212.45 319.7 212.84 318.97 213.3 C318.24 213.77 317.9 214.42 317.65 214.99 C317.41 215.55 317.53 216.39 317.51 216.67" fill="none" stroke="#141414" stroke-width="0.85" stroke-linecap="round"/>
<text x="328.5" y="225.6" font-size="5.2" text-anchor="middle" textLength="33" lengthAdjust="spacingAndGlyphs">tail i.v injection</text>
<text x="328.5" y="231.8" font-size="5.2" text-anchor="middle" textLength="15" lengthAdjust="spacingAndGlyphs">of cells</text>
<text x="366.9" y="172" font-size="5.3" text-anchor="end" textLength="16.2" lengthAdjust="spacingAndGlyphs">DMSO</text>
<text x="367.7" y="177.9" font-size="5.3" text-anchor="end" textLength="18.6" lengthAdjust="spacingAndGlyphs">(Vehicle)</text>
<text x="374" y="184.5" font-size="5.3" text-anchor="middle">or</text>
<text x="366" y="192.2" font-size="5.3" text-anchor="end" textLength="19.8" lengthAdjust="spacingAndGlyphs">BAY-876</text>
<text x="366.5" y="198.2" font-size="5.3" text-anchor="end" textLength="20.6" lengthAdjust="spacingAndGlyphs">(4mg/kg)</text>
<circle cx="370" cy="168.3" r="0.7" fill="#b0b0b8" />
<circle cx="373.5" cy="167.8" r="0.8" fill="#a8a8b0" />
<circle cx="376.5" cy="169" r="0.6" fill="#c0c0c8" />
<circle cx="369.8" cy="171.5" r="0.7" fill="#8a8a98" />
<circle cx="372.8" cy="171" r="0.9" fill="#505868" />
<circle cx="375.8" cy="172" r="0.7" fill="#9a9aa8" />
<circle cx="371" cy="174.6" r="0.6" fill="#a0a0ad" />
<circle cx="374.5" cy="174.8" r="0.7" fill="#707888" />
<circle cx="370.5" cy="190" r="0.8" fill="#8090b0" />
<circle cx="374" cy="189.5" r="0.8" fill="#3a5a8a" />
<circle cx="377" cy="191" r="0.7" fill="#90a0c0" />
<circle cx="370" cy="193" r="0.8" fill="#4a6a9a" />
<circle cx="373.8" cy="193.6" r="1.1" fill="#1c3660" />
<circle cx="377.5" cy="194" r="0.8" fill="#7088b0" />
<circle cx="371" cy="196.8" r="0.7" fill="#6a80a8" />
<circle cx="374.8" cy="197" r="0.8" fill="#2a4a7a" />
<circle cx="372.5" cy="191.5" r="0.6" fill="#5070a0" />
<circle cx="382.8" cy="183.3" r="1" fill="#c88a5a" />
<line x1="383.6" y1="183.7" x2="393.5" y2="187.9" stroke="#d8b8a0" stroke-width="0.45" />
<path d="M393.4 186.09 C393.55 185.91 393.98 186.57 394.58 186.65 C395.18 186.73 396.25 186.63 397 186.58 C397.75 186.53 398.6 186.29 399.08 186.37 C399.57 186.45 399.28 186.72 399.91 187.06 C400.55 187.41 401.99 187.87 402.89 188.45 C403.79 189.03 404.66 189.74 405.31 190.53 C405.97 191.31 406.54 192.28 406.84 193.16 C407.14 194.04 407.23 194.96 407.11 195.79 C407 196.62 406.65 197.61 406.14 198.14 C405.64 198.67 405.01 198.81 404.07 198.98 C403.12 199.14 401.53 199.09 400.47 199.11 C399.4 199.14 398.56 199.09 397.7 199.11 C396.83 199.14 395.78 199.32 395.27 199.25 C394.76 199.18 394.57 198.88 394.65 198.7 C394.73 198.51 395.5 198.49 395.76 198.14 C396.01 197.8 396.25 197.08 396.17 196.62 C396.09 196.16 395.69 195.63 395.27 195.37 C394.86 195.12 393.85 195.28 393.68 195.1 C393.51 194.91 393.96 194.47 394.23 194.27 C394.51 194.06 395.23 194.27 395.34 193.85 C395.46 193.43 395.09 192.47 394.93 191.77 C394.76 191.08 394.58 190.36 394.37 189.7 C394.16 189.03 393.84 188.36 393.68 187.76 C393.52 187.16 393.25 186.28 393.4 186.09 Z" fill="#141414" />
<path d="M405.66 198.42 C406.52 198.44 409.18 198.54 410.85 198.56 C412.53 198.58 414.43 198.49 415.7 198.56 C416.97 198.63 417.84 198.72 418.47 198.98 C419.11 199.23 419.3 199.58 419.51 200.08 C419.72 200.59 419.68 201.7 419.72 202.02" fill="none" stroke="#141414" stroke-width="0.85" stroke-linecap="round"/>
<path d="M374.2 208 L441.5 208 L441.5 206.6 L451.2 211.2 L441.5 215.8 L441.5 214.3 L374.2 214.3 Z" fill="#d6d8e8"/>
<text x="382.9" y="213.1" font-size="5.3" textLength="49.6" lengthAdjust="spacingAndGlyphs">daily 10 day treatment</text>
<path d="M374.2 217.6 L466 217.6 L466 216.4 L476.2 220.8 L466 225.2 L466 224 L374.2 224 Z" fill="#f9d4de"/>
<text x="382.9" y="222.7" font-size="5.3" textLength="49.6" lengthAdjust="spacingAndGlyphs">daily 21 day treatment</text>
<rect x="421.5" y="164.2" width="60" height="32.3" fill="#cfd1e3" rx="3"/>
<text x="451.6" y="171.3" font-size="5.2" text-anchor="middle" textLength="22" lengthAdjust="spacingAndGlyphs">End point</text>
<text x="451.8" y="180.6" font-size="5.2" text-anchor="middle" textLength="37" lengthAdjust="spacingAndGlyphs">Leukemia burden</text>
<text x="451.8" y="187" font-size="5.2" text-anchor="middle" textLength="51" lengthAdjust="spacingAndGlyphs">assessed in BM, spleen</text>
<text x="451.8" y="193.5" font-size="5.2" text-anchor="middle" textLength="40" lengthAdjust="spacingAndGlyphs">&amp; peripheral blood</text>
<line x1="451.4" y1="196.6" x2="451.4" y2="207.5" stroke="#555" stroke-width="0.6" />
<path d="M450.3 205.6 L451.4 208.3 L452.5 205.6" fill="none" stroke="#555" stroke-width="0.6" />
<rect x="481.2" y="212" width="29.8" height="12.8" fill="#fbdce5" rx="2"/>
<text x="495.8" y="217.8" font-size="5.3" text-anchor="middle" textLength="19.5" lengthAdjust="spacingAndGlyphs">Survival</text>
<text x="495.8" y="224" font-size="5.3" text-anchor="middle" textLength="25.5" lengthAdjust="spacingAndGlyphs">monitoring</text>
<line x1="352.3" y1="227.8" x2="478" y2="227.8" stroke="#333" stroke-width="1" />
<line x1="478" y1="227.8" x2="511" y2="227.8" stroke="#333" stroke-width="1" stroke-dasharray="0.9 1.1"/>
<path d="M510.5 226.4 L513.3 227.8 L510.5 229.2 Z" fill="#333" />
<line x1="352.3" y1="227.8" x2="352.3" y2="230.3" stroke="#333" stroke-width="0.7" />
<text x="352.3" y="234.8" font-size="4.8" text-anchor="middle" fill="#555">0</text>
<line x1="373.6" y1="227.8" x2="373.6" y2="230.3" stroke="#333" stroke-width="0.7" />
<text x="373.6" y="234.8" font-size="4.8" text-anchor="middle" fill="#555">3</text>
<line x1="451.5" y1="227.8" x2="451.5" y2="230.3" stroke="#333" stroke-width="0.7" />
<text x="451.5" y="234.8" font-size="4.8" text-anchor="middle" fill="#555">13</text>
<line x1="476.8" y1="227.8" x2="476.8" y2="230.3" stroke="#333" stroke-width="0.7" />
<text x="476.8" y="234.8" font-size="4.8" text-anchor="middle" fill="#555">21</text>
<line x1="373.6" y1="236.8" x2="373.6" y2="242" stroke="#111" stroke-width="0.7" />
<path d="M372.5 238.6 L373.6 236.3 L374.70000000000005 238.6 Z" fill="#111" />
<line x1="476.8" y1="236.8" x2="476.8" y2="242" stroke="#111" stroke-width="0.7" />
<path d="M475.7 238.6 L476.8 236.3 L477.90000000000003 238.6 Z" fill="#111" />
<text x="373.8" y="248.6" font-size="5.3" text-anchor="middle" textLength="22.5" lengthAdjust="spacingAndGlyphs">Treatment</text>
<text x="373.8" y="254.5" font-size="5.3" text-anchor="middle" textLength="14.5" lengthAdjust="spacingAndGlyphs">begins</text>
<text x="477.5" y="248.6" font-size="5.3" text-anchor="middle" textLength="22.5" lengthAdjust="spacingAndGlyphs">Treatment</text>
<text x="477.5" y="254.8" font-size="5.3" text-anchor="middle" textLength="10" lengthAdjust="spacingAndGlyphs">ends</text>
<text x="398" y="250.6" font-size="5.3" textLength="55.5" lengthAdjust="spacingAndGlyphs">Days post-transplantation</text>
<rect x="0.5" y="0.5" width="519" height="401" fill="none" stroke="#555" stroke-width="1"/>
</svg>
</body></html>
